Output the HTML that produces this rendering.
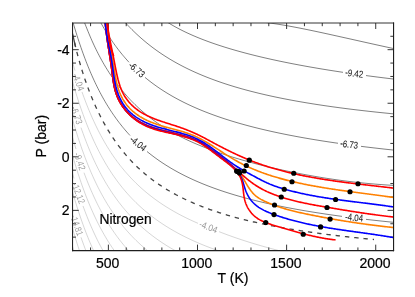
<!DOCTYPE html>
<html><head><meta charset="utf-8"><title>Nitrogen</title>
<style>
html,body{margin:0;padding:0;background:#fff;}
body{width:415px;height:297px;overflow:hidden;}
svg{display:block;}
text{font-family:"Liberation Sans",sans-serif;}
</style></head><body>
<svg width="415" height="297" viewBox="0 0 415 297">
<rect x="0" y="0" width="415" height="297" fill="#ffffff"/>
<defs><clipPath id="cp"><rect x="72.75" y="23.00" width="320.80" height="227.65"/></clipPath></defs>
<g clip-path="url(#cp)" fill="none" stroke-linecap="butt" stroke-linejoin="round">
<path d="M66.00,38.53 L67.00,42.29 L68.00,46.02 L69.00,49.70 L70.00,53.33 L71.00,56.90 L72.00,60.41 L73.00,63.87 L74.00,67.25 L75.00,70.57" stroke="#c4c4c4" stroke-width="0.7"/>
<path d="M82.00,91.97 L83.00,94.76 L84.00,97.50 L85.00,100.17 L86.00,102.79 L87.00,105.34 L88.00,107.84 L89.00,110.29 L90.00,112.68 L91.00,115.02 L92.00,117.30 L93.00,119.54 L94.00,121.73 L95.00,123.87 L96.00,125.96 L97.00,128.01 L98.00,130.02 L99.00,131.98 L100.00,133.91 L101.00,135.79 L102.00,137.63 L103.00,139.43 L104.00,141.20 L105.00,142.94 L106.00,144.63 L107.00,146.30 L108.00,147.93 L109.00,149.52 L110.00,151.09 L111.00,152.63 L112.00,154.13 L113.00,155.61 L114.00,157.06 L115.00,158.48 L116.00,159.88 L117.00,161.25 L118.00,162.59 L119.00,163.91 L120.00,165.21 L121.00,166.48 L122.00,167.73 L123.00,168.96 L124.00,170.16 L125.00,171.35 L126.00,172.51 L127.00,173.65 L128.00,174.78 L129.00,175.88 L130.00,176.97 L131.00,178.04 L132.00,179.09 L133.00,180.12 L134.00,181.14 L135.00,182.14 L136.00,183.13 L137.00,184.09 L138.00,185.05 L139.00,185.98 L140.00,186.91 L141.00,187.82 L142.00,188.71 L143.00,189.59 L144.00,190.46 L145.00,191.31 L146.00,192.16 L147.00,192.99 L148.00,193.80 L149.00,194.61 L150.00,195.40 L151.00,196.18 L152.00,196.95 L153.00,197.71 L154.00,198.46 L155.00,199.20 L156.00,199.92 L157.00,200.64 L158.00,201.35 L159.00,202.05 L160.00,202.74 L161.00,203.41 L162.00,204.08 L163.00,204.75 L164.00,205.40 L165.00,206.04 L166.00,206.68 L167.00,207.30 L168.00,207.92 L169.00,208.53 L170.00,209.13 L171.00,209.73 L172.00,210.31 L173.00,210.89 L174.00,211.47 L175.00,212.03 L176.00,212.59 L177.00,213.14 L178.00,213.69 L179.00,214.23 L180.00,214.76 L181.00,215.28 L182.00,215.80 L183.00,216.31 L184.00,216.82 L185.00,217.32 L186.00,217.82 L187.00,218.31 L188.00,218.79 L189.00,219.27 L190.00,219.74 L191.00,220.21 L192.00,220.67 L193.00,221.13 L194.00,221.58 L195.00,222.02 L196.00,222.47 L197.00,222.90 L198.00,223.34" stroke="#c4c4c4" stroke-width="0.7"/>
<path d="M219.00,231.63 L220.00,232.02 L221.00,232.41 L222.00,232.80 L223.00,233.18 L224.00,233.56 L225.00,233.94 L226.00,234.31 L227.00,234.69 L228.00,235.05 L229.00,235.42 L230.00,235.78 L231.00,236.14 L232.00,236.50 L233.00,236.85 L234.00,237.20 L235.00,237.55 L236.00,237.90 L237.00,238.24 L238.00,238.58 L239.00,238.92 L240.00,239.25 L241.00,239.58 L242.00,239.91 L243.00,240.24 L244.00,240.57 L245.00,240.89 L246.00,241.21 L247.00,241.53 L248.00,241.84 L249.00,242.16 L250.00,242.47 L251.00,242.78 L252.00,243.08 L253.00,243.39 L254.00,243.69 L255.00,243.99 L256.00,244.29 L257.00,244.58 L258.00,244.88 L259.00,245.17 L260.00,245.46 L261.00,245.75 L262.00,246.03 L263.00,246.32 L264.00,246.60 L265.00,246.88 L266.00,247.16 L267.00,247.44 L268.00,247.71 L269.00,247.98 L270.00,248.26 L271.00,248.53 L272.00,248.79 L273.00,249.06 L274.00,249.32 L275.00,249.59 L276.00,249.85 L277.00,250.11 L278.00,250.37 L279.00,250.62 L280.00,250.88 L281.00,251.13 L282.00,251.38 L283.00,251.63 L284.00,251.88 L285.00,252.13 L286.00,252.37 L287.00,252.62 L288.00,252.86 L289.00,253.10 L290.00,253.34 L291.00,253.58 L292.00,253.82 L293.00,254.06 L294.00,254.29 L295.00,254.52 L296.00,254.76 L297.00,254.99 L298.00,255.22 L299.00,255.44 L300.00,255.67 L301.00,255.90 L302.00,256.12 L303.00,256.34 L304.00,256.57 L305.00,256.79 L306.00,257.01 L307.00,257.23 L308.00,257.44 L309.00,257.66 L310.00,257.87 L311.00,258.09 L312.00,258.30 L313.00,258.51 L314.00,258.72 L315.00,258.93 L316.00,259.14 L317.00,259.35 L318.00,259.55 L319.00,259.76 L320.00,259.96 L321.00,260.17 L322.00,260.37 L323.00,260.57 L324.00,260.77 L325.00,260.97 L326.00,261.17 L327.00,261.37 L328.00,261.56 L329.00,261.76 L330.00,261.95" stroke="#c4c4c4" stroke-width="0.7"/>
<path d="M66.00,58.03 L67.00,61.79 L68.00,65.52 L69.00,69.20 L70.00,72.83 L71.00,76.40 L72.00,79.91 L73.00,83.37 L74.00,86.75 L75.00,90.07 L76.00,93.33 L77.00,96.52 L78.00,99.64 L79.00,102.69 L80.00,105.68 L81.00,108.61 L82.00,111.47 L83.00,114.26 L84.00,117.00 L85.00,119.67 L86.00,122.29 L87.00,124.84 L88.00,127.34 L89.00,129.79 L90.00,132.18 L91.00,134.52 L92.00,136.80 L93.00,139.04 L94.00,141.23 L95.00,143.37 L96.00,145.46 L97.00,147.51 L98.00,149.52 L99.00,151.48 L100.00,153.41 L101.00,155.29 L102.00,157.13 L103.00,158.93 L104.00,160.70 L105.00,162.44 L106.00,164.13 L107.00,165.80 L108.00,167.43 L109.00,169.02 L110.00,170.59 L111.00,172.13 L112.00,173.63 L113.00,175.11 L114.00,176.56 L115.00,177.98 L116.00,179.38 L117.00,180.75 L118.00,182.09 L119.00,183.41 L120.00,184.71 L121.00,185.98 L122.00,187.23 L123.00,188.46 L124.00,189.66 L125.00,190.85 L126.00,192.01 L127.00,193.15 L128.00,194.28 L129.00,195.38 L130.00,196.47 L131.00,197.54 L132.00,198.59 L133.00,199.62 L134.00,200.64 L135.00,201.64 L136.00,202.63 L137.00,203.59 L138.00,204.55 L139.00,205.48 L140.00,206.41 L141.00,207.32 L142.00,208.21 L143.00,209.09 L144.00,209.96 L145.00,210.81 L146.00,211.66 L147.00,212.49 L148.00,213.30 L149.00,214.11 L150.00,214.90 L151.00,215.68 L152.00,216.45 L153.00,217.21 L154.00,217.96 L155.00,218.70 L156.00,219.42 L157.00,220.14 L158.00,220.85 L159.00,221.55 L160.00,222.24 L161.00,222.91 L162.00,223.58 L163.00,224.25 L164.00,224.90 L165.00,225.54 L166.00,226.18 L167.00,226.80 L168.00,227.42 L169.00,228.03 L170.00,228.63 L171.00,229.23 L172.00,229.81 L173.00,230.39 L174.00,230.97 L175.00,231.53 L176.00,232.09 L177.00,232.64 L178.00,233.19 L179.00,233.73 L180.00,234.26 L181.00,234.78 L182.00,235.30 L183.00,235.81 L184.00,236.32 L185.00,236.82 L186.00,237.32 L187.00,237.81 L188.00,238.29 L189.00,238.77 L190.00,239.24 L191.00,239.71 L192.00,240.17 L193.00,240.63 L194.00,241.08 L195.00,241.52 L196.00,241.97 L197.00,242.40 L198.00,242.84 L199.00,243.26 L200.00,243.68 L201.00,244.10 L202.00,244.52 L203.00,244.93 L204.00,245.33 L205.00,245.73 L206.00,246.13 L207.00,246.52 L208.00,246.91 L209.00,247.29 L210.00,247.67 L211.00,248.05 L212.00,248.42 L213.00,248.79 L214.00,249.15 L215.00,249.52 L216.00,249.87 L217.00,250.23 L218.00,250.58 L219.00,250.93 L220.00,251.27 L221.00,251.61 L222.00,251.95 L223.00,252.28 L224.00,252.61 L225.00,252.94 L226.00,253.26 L227.00,253.59 L228.00,253.90 L229.00,254.22 L230.00,254.53 L231.00,254.84 L232.00,255.15 L233.00,255.45 L234.00,255.75 L235.00,256.05 L236.00,256.35 L237.00,256.64 L238.00,256.93 L239.00,257.22 L240.00,257.50 L241.00,257.78 L242.00,258.06 L243.00,258.34 L244.00,258.62 L245.00,258.89 L246.00,259.16 L247.00,259.43 L248.00,259.69 L249.00,259.96 L250.00,260.22 L251.00,260.48 L252.00,260.73 L253.00,260.99 L254.00,261.24 L255.00,261.49 L256.00,261.74 L257.00,261.98" stroke="#c4c4c4" stroke-width="0.7"/>
<path d="M66.00,77.03 L67.00,80.79 L68.00,84.52 L69.00,88.20 L70.00,91.83 L71.00,95.40 L72.00,98.91 L73.00,102.37" stroke="#c4c4c4" stroke-width="0.7"/>
<path d="M81.00,127.61 L82.00,130.47 L83.00,133.26 L84.00,136.00 L85.00,138.67 L86.00,141.29 L87.00,143.84 L88.00,146.34 L89.00,148.79 L90.00,151.18 L91.00,153.52 L92.00,155.80 L93.00,158.04 L94.00,160.23 L95.00,162.37 L96.00,164.46 L97.00,166.51 L98.00,168.52 L99.00,170.48 L100.00,172.41 L101.00,174.29 L102.00,176.13 L103.00,177.93 L104.00,179.70 L105.00,181.44 L106.00,183.13 L107.00,184.80 L108.00,186.43 L109.00,188.02 L110.00,189.59 L111.00,191.13 L112.00,192.63 L113.00,194.11 L114.00,195.56 L115.00,196.98 L116.00,198.38 L117.00,199.75 L118.00,201.09 L119.00,202.41 L120.00,203.71 L121.00,204.98 L122.00,206.23 L123.00,207.46 L124.00,208.66 L125.00,209.85 L126.00,211.01 L127.00,212.15 L128.00,213.28 L129.00,214.38 L130.00,215.47 L131.00,216.54 L132.00,217.59 L133.00,218.62 L134.00,219.64 L135.00,220.64 L136.00,221.63 L137.00,222.59 L138.00,223.55 L139.00,224.48 L140.00,225.41 L141.00,226.32 L142.00,227.21 L143.00,228.09 L144.00,228.96 L145.00,229.81 L146.00,230.66 L147.00,231.49 L148.00,232.30 L149.00,233.11 L150.00,233.90 L151.00,234.68 L152.00,235.45 L153.00,236.21 L154.00,236.96 L155.00,237.70 L156.00,238.42 L157.00,239.14 L158.00,239.85 L159.00,240.55 L160.00,241.24 L161.00,241.91 L162.00,242.58 L163.00,243.25 L164.00,243.90 L165.00,244.54 L166.00,245.18 L167.00,245.80 L168.00,246.42 L169.00,247.03 L170.00,247.63 L171.00,248.23 L172.00,248.81 L173.00,249.39 L174.00,249.97 L175.00,250.53 L176.00,251.09 L177.00,251.64 L178.00,252.19 L179.00,252.73 L180.00,253.26 L181.00,253.78 L182.00,254.30 L183.00,254.81 L184.00,255.32 L185.00,255.82 L186.00,256.32 L187.00,256.81 L188.00,257.29 L189.00,257.77 L190.00,258.24 L191.00,258.71 L192.00,259.17 L193.00,259.63 L194.00,260.08 L195.00,260.52 L196.00,260.97 L197.00,261.40 L198.00,261.84" stroke="#c4c4c4" stroke-width="0.7"/>
<path d="M66.00,95.73 L67.00,99.49 L68.00,103.22 L69.00,106.90 L70.00,110.53 L71.00,114.10 L72.00,117.61 L73.00,121.07 L74.00,124.45 L75.00,127.77 L76.00,131.03 L77.00,134.22 L78.00,137.34 L79.00,140.39 L80.00,143.38 L81.00,146.31 L82.00,149.17 L83.00,151.96 L84.00,154.70 L85.00,157.37 L86.00,159.99 L87.00,162.54 L88.00,165.04 L89.00,167.49 L90.00,169.88 L91.00,172.22 L92.00,174.50 L93.00,176.74 L94.00,178.93 L95.00,181.07 L96.00,183.16 L97.00,185.21 L98.00,187.22 L99.00,189.18 L100.00,191.11 L101.00,192.99 L102.00,194.83 L103.00,196.63 L104.00,198.40 L105.00,200.14 L106.00,201.83 L107.00,203.50 L108.00,205.13 L109.00,206.72 L110.00,208.29 L111.00,209.83 L112.00,211.33 L113.00,212.81 L114.00,214.26 L115.00,215.68 L116.00,217.08 L117.00,218.45 L118.00,219.79 L119.00,221.11 L120.00,222.41 L121.00,223.68 L122.00,224.93 L123.00,226.16 L124.00,227.36 L125.00,228.55 L126.00,229.71 L127.00,230.85 L128.00,231.98 L129.00,233.08 L130.00,234.17 L131.00,235.24 L132.00,236.29 L133.00,237.32 L134.00,238.34 L135.00,239.34 L136.00,240.33 L137.00,241.29 L138.00,242.25 L139.00,243.18 L140.00,244.11 L141.00,245.02 L142.00,245.91 L143.00,246.79 L144.00,247.66 L145.00,248.51 L146.00,249.36 L147.00,250.19 L148.00,251.00 L149.00,251.81 L150.00,252.60 L151.00,253.38 L152.00,254.15 L153.00,254.91 L154.00,255.66 L155.00,256.40 L156.00,257.12 L157.00,257.84 L158.00,258.55 L159.00,259.25 L160.00,259.94 L161.00,260.61 L162.00,261.28 L163.00,261.95" stroke="#c4c4c4" stroke-width="0.7"/>
<path d="M66.00,113.73 L67.00,117.49 L68.00,121.22 L69.00,124.90 L70.00,128.53 L71.00,132.10 L72.00,135.61 L73.00,139.07 L74.00,142.45 L75.00,145.77 L76.00,149.03" stroke="#c4c4c4" stroke-width="0.7"/>
<path d="M84.00,172.70 L85.00,175.37 L86.00,177.99 L87.00,180.54 L88.00,183.04 L89.00,185.49 L90.00,187.88 L91.00,190.22 L92.00,192.50 L93.00,194.74 L94.00,196.93 L95.00,199.07 L96.00,201.16 L97.00,203.21 L98.00,205.22 L99.00,207.18 L100.00,209.11 L101.00,210.99 L102.00,212.83 L103.00,214.63 L104.00,216.40 L105.00,218.14 L106.00,219.83 L107.00,221.50 L108.00,223.13 L109.00,224.72 L110.00,226.29 L111.00,227.83 L112.00,229.33 L113.00,230.81 L114.00,232.26 L115.00,233.68 L116.00,235.08 L117.00,236.45 L118.00,237.79 L119.00,239.11 L120.00,240.41 L121.00,241.68 L122.00,242.93 L123.00,244.16 L124.00,245.36 L125.00,246.55 L126.00,247.71 L127.00,248.85 L128.00,249.98 L129.00,251.08 L130.00,252.17 L131.00,253.24 L132.00,254.29 L133.00,255.32 L134.00,256.34 L135.00,257.34 L136.00,258.33 L137.00,259.29 L138.00,260.25 L139.00,261.18" stroke="#c4c4c4" stroke-width="0.7"/>
<path d="M66.00,131.73 L67.00,135.49 L68.00,139.22 L69.00,142.90 L70.00,146.53 L71.00,150.10 L72.00,153.61 L73.00,157.07 L74.00,160.45 L75.00,163.77 L76.00,167.03 L77.00,170.22 L78.00,173.34 L79.00,176.39 L80.00,179.38 L81.00,182.31 L82.00,185.17 L83.00,187.96 L84.00,190.70 L85.00,193.37 L86.00,195.99 L87.00,198.54 L88.00,201.04 L89.00,203.49 L90.00,205.88 L91.00,208.22 L92.00,210.50 L93.00,212.74 L94.00,214.93 L95.00,217.07 L96.00,219.16 L97.00,221.21 L98.00,223.22 L99.00,225.18 L100.00,227.11 L101.00,228.99 L102.00,230.83 L103.00,232.63 L104.00,234.40 L105.00,236.14 L106.00,237.83 L107.00,239.50 L108.00,241.13 L109.00,242.72 L110.00,244.29 L111.00,245.83 L112.00,247.33 L113.00,248.81 L114.00,250.26 L115.00,251.68 L116.00,253.08 L117.00,254.45 L118.00,255.79 L119.00,257.11 L120.00,258.41 L121.00,259.68 L122.00,260.93" stroke="#c4c4c4" stroke-width="0.7"/>
<path d="M66.00,149.73 L67.00,153.49 L68.00,157.22 L69.00,160.90 L70.00,164.53 L71.00,168.10 L72.00,171.61 L73.00,175.07 L74.00,178.45" stroke="#c4c4c4" stroke-width="0.7"/>
<path d="M83.00,205.96 L84.00,208.70 L85.00,211.37 L86.00,213.99 L87.00,216.54 L88.00,219.04 L89.00,221.49 L90.00,223.88 L91.00,226.22 L92.00,228.50 L93.00,230.74 L94.00,232.93 L95.00,235.07 L96.00,237.16 L97.00,239.21 L98.00,241.22 L99.00,243.18 L100.00,245.11 L101.00,246.99 L102.00,248.83 L103.00,250.63 L104.00,252.40 L105.00,254.14 L106.00,255.83 L107.00,257.50 L108.00,259.13 L109.00,260.72" stroke="#c4c4c4" stroke-width="0.7"/>
<path d="M66.00,168.33 L67.00,172.09 L68.00,175.82 L69.00,179.50 L70.00,183.13 L71.00,186.70 L72.00,190.21 L73.00,193.67 L74.00,197.05 L75.00,200.37 L76.00,203.63 L77.00,206.82 L78.00,209.94 L79.00,212.99 L80.00,215.98 L81.00,218.91 L82.00,221.77 L83.00,224.56 L84.00,227.30 L85.00,229.97 L86.00,232.59 L87.00,235.14 L88.00,237.64 L89.00,240.09 L90.00,242.48 L91.00,244.82 L92.00,247.10 L93.00,249.34 L94.00,251.53 L95.00,253.67 L96.00,255.76 L97.00,257.81 L98.00,259.82 L99.00,261.78" stroke="#c4c4c4" stroke-width="0.7"/>
<path d="M66.00,186.73 L67.00,190.49 L68.00,194.22 L69.00,197.90 L70.00,201.53 L71.00,205.10 L72.00,208.61 L73.00,212.07" stroke="#c4c4c4" stroke-width="0.7"/>
<path d="M81.00,237.31 L82.00,240.17 L83.00,242.96 L84.00,245.70 L85.00,248.37 L86.00,250.99 L87.00,253.54 L88.00,256.04 L89.00,258.49 L90.00,260.88" stroke="#c4c4c4" stroke-width="0.7"/>
<path d="M66.00,204.73 L67.00,208.49 L68.00,212.22 L69.00,215.90 L70.00,219.53 L71.00,223.10 L72.00,226.61 L73.00,230.07 L74.00,233.45 L75.00,236.77 L76.00,240.03 L77.00,243.22 L78.00,246.34 L79.00,249.39 L80.00,252.38 L81.00,255.31 L82.00,258.17 L83.00,260.96" stroke="#c4c4c4" stroke-width="0.7"/>
<path d="M66.00,222.73 L67.00,226.49 L68.00,230.22 L69.00,233.90 L70.00,237.53 L71.00,241.10 L72.00,244.61 L73.00,248.07 L74.00,251.45 L75.00,254.77 L76.00,258.03 L77.00,261.22" stroke="#c4c4c4" stroke-width="0.7"/>
<path d="M262.00,22.08 L263.00,22.18 L264.00,22.30 L265.00,22.41 L266.00,22.53 L267.00,22.65 L268.00,22.78 L269.00,22.91 L270.00,23.04 L271.00,23.18 L272.00,23.32 L273.00,23.46 L274.00,23.61 L275.00,23.75 L276.00,23.90 L277.00,24.06 L278.00,24.21 L279.00,24.37 L280.00,24.53 L281.00,24.69 L282.00,24.86 L283.00,25.03 L284.00,25.19 L285.00,25.37 L286.00,25.54 L287.00,25.72 L288.00,25.89 L289.00,26.07 L290.00,26.25 L291.00,26.44 L292.00,26.62 L293.00,26.81 L294.00,27.00 L295.00,27.18 L296.00,27.38 L297.00,27.57 L298.00,27.76 L299.00,27.96 L300.00,28.15 L301.00,28.35 L302.00,28.55 L303.00,28.75 L304.00,28.95 L305.00,29.15 L306.00,29.36 L307.00,29.56 L308.00,29.77 L309.00,29.97 L310.00,30.18 L311.00,30.39 L312.00,30.60 L313.00,30.81 L314.00,31.02 L315.00,31.23 L316.00,31.44 L317.00,31.65 L318.00,31.87 L319.00,32.08 L320.00,32.30 L321.00,32.51 L322.00,32.73 L323.00,32.94 L324.00,33.16 L325.00,33.38 L326.00,33.60 L327.00,33.82 L328.00,34.03 L329.00,34.25 L330.00,34.47 L331.00,34.69 L332.00,34.91 L333.00,35.14 L334.00,35.36 L335.00,35.58 L336.00,35.80 L337.00,36.02 L338.00,36.24 L339.00,36.47 L340.00,36.69 L341.00,36.91 L342.00,37.13 L343.00,37.36 L344.00,37.58 L345.00,37.80 L346.00,38.03 L347.00,38.25 L348.00,38.47 L349.00,38.70 L350.00,38.92 L351.00,39.14 L352.00,39.37 L353.00,39.59 L354.00,39.82 L355.00,40.04 L356.00,40.26 L357.00,40.49 L358.00,40.71 L359.00,40.93 L360.00,41.16 L361.00,41.38 L362.00,41.60 L363.00,41.83 L364.00,42.05 L365.00,42.27 L366.00,42.50 L367.00,42.72 L368.00,42.94 L369.00,43.16 L370.00,43.39 L371.00,43.61 L372.00,43.83 L373.00,44.05 L374.00,44.27 L375.00,44.49 L376.00,44.72 L377.00,44.94 L378.00,45.16 L379.00,45.38 L380.00,45.60 L381.00,45.82 L382.00,46.04 L383.00,46.26 L384.00,46.48 L385.00,46.70 L386.00,46.91 L387.00,47.13 L388.00,47.35 L389.00,47.57 L390.00,47.79 L391.00,48.00 L392.00,48.22 L393.00,48.44 L394.00,48.65 L395.00,48.87 L396.00,49.08 L397.00,49.30 L398.00,49.52 L399.00,49.73 L400.00,49.94" stroke="#444444" stroke-width="0.68"/>
<path d="M162.00,18.65 L163.00,19.34 L164.00,20.01 L165.00,20.67 L166.00,21.33 L167.00,21.97 L168.00,22.59 L169.00,23.21 L170.00,23.82 L171.00,24.42 L172.00,25.00 L173.00,25.58 L174.00,26.15 L175.00,26.71 L176.00,27.26 L177.00,27.80 L178.00,28.34 L179.00,28.86 L180.00,29.38 L181.00,29.89 L182.00,30.40 L183.00,30.89 L184.00,31.39 L185.00,31.87 L186.00,32.35 L187.00,32.82 L188.00,33.28 L189.00,33.74 L190.00,34.19 L191.00,34.64 L192.00,35.08 L193.00,35.52 L194.00,35.95 L195.00,36.37 L196.00,36.79 L197.00,37.21 L198.00,37.62 L199.00,38.02 L200.00,38.43 L201.00,38.82 L202.00,39.22 L203.00,39.60 L204.00,39.99 L205.00,40.37 L206.00,40.74 L207.00,41.12 L208.00,41.48 L209.00,41.85 L210.00,42.21 L211.00,42.57 L212.00,42.92 L213.00,43.27 L214.00,43.62 L215.00,43.96 L216.00,44.30 L217.00,44.64 L218.00,44.97 L219.00,45.30 L220.00,45.63 L221.00,45.95 L222.00,46.27 L223.00,46.59 L224.00,46.91 L225.00,47.22 L226.00,47.53 L227.00,47.84 L228.00,48.15 L229.00,48.45 L230.00,48.75 L231.00,49.05 L232.00,49.34 L233.00,49.63 L234.00,49.92 L235.00,50.21 L236.00,50.50 L237.00,50.78 L238.00,51.06 L239.00,51.34 L240.00,51.62 L241.00,51.89 L242.00,52.16 L243.00,52.43 L244.00,52.70 L245.00,52.97 L246.00,53.23 L247.00,53.49 L248.00,53.76 L249.00,54.01 L250.00,54.27 L251.00,54.53 L252.00,54.78 L253.00,55.03 L254.00,55.28 L255.00,55.53 L256.00,55.77 L257.00,56.02 L258.00,56.26 L259.00,56.50 L260.00,56.74 L261.00,56.98 L262.00,57.21 L263.00,57.45 L264.00,57.68 L265.00,57.91 L266.00,58.14 L267.00,58.37 L268.00,58.60 L269.00,58.82 L270.00,59.04 L271.00,59.27 L272.00,59.49 L273.00,59.71 L274.00,59.93 L275.00,60.14 L276.00,60.36 L277.00,60.57 L278.00,60.78 L279.00,61.00 L280.00,61.21 L281.00,61.42 L282.00,61.62 L283.00,61.83 L284.00,62.03 L285.00,62.24 L286.00,62.44 L287.00,62.64 L288.00,62.84 L289.00,63.04 L290.00,63.24 L291.00,63.44 L292.00,63.63 L293.00,63.83 L294.00,64.02 L295.00,64.21 L296.00,64.40 L297.00,64.59 L298.00,64.78 L299.00,64.97 L300.00,65.16 L301.00,65.34 L302.00,65.53 L303.00,65.71 L304.00,65.89 L305.00,66.08 L306.00,66.26 L307.00,66.44 L308.00,66.62 L309.00,66.79 L310.00,66.97 L311.00,67.15 L312.00,67.32 L313.00,67.49 L314.00,67.67 L315.00,67.84 L316.00,68.01 L317.00,68.18 L318.00,68.35 L319.00,68.52 L320.00,68.69 L321.00,68.85 L322.00,69.02 L323.00,69.19 L324.00,69.35 L325.00,69.51 L326.00,69.68 L327.00,69.84 L328.00,70.00 L329.00,70.16 L330.00,70.32 L331.00,70.48 L332.00,70.63 L333.00,70.79 L334.00,70.95 L335.00,71.10 L336.00,71.26 L337.00,71.41 L338.00,71.56 L339.00,71.72 L340.00,71.87 L341.00,72.02 L342.00,72.17 L343.00,72.32" stroke="#444444" stroke-width="0.68"/>
<path d="M366.00,75.56 L367.00,75.70 L368.00,75.83 L369.00,75.96 L370.00,76.09 L371.00,76.23 L372.00,76.36 L373.00,76.49 L374.00,76.62 L375.00,76.74 L376.00,76.87 L377.00,77.00 L378.00,77.13 L379.00,77.25 L380.00,77.38 L381.00,77.50 L382.00,77.63 L383.00,77.75 L384.00,77.88 L385.00,78.00 L386.00,78.12 L387.00,78.25 L388.00,78.37 L389.00,78.49 L390.00,78.61 L391.00,78.73 L392.00,78.85 L393.00,78.97 L394.00,79.09 L395.00,79.20 L396.00,79.32 L397.00,79.44 L398.00,79.56 L399.00,79.67 L400.00,79.79" stroke="#444444" stroke-width="0.68"/>
<path d="M120.00,16.62 L121.00,17.79 L122.00,18.94 L123.00,20.07 L124.00,21.19 L125.00,22.30 L126.00,23.39 L127.00,24.47 L128.00,25.53 L129.00,26.57 L130.00,27.60 L131.00,28.62 L132.00,29.63 L133.00,30.61 L134.00,31.59 L135.00,32.55 L136.00,33.50 L137.00,34.44 L138.00,35.36 L139.00,36.27 L140.00,37.17 L141.00,38.06 L142.00,38.93 L143.00,39.79 L144.00,40.64 L145.00,41.48 L146.00,42.31 L147.00,43.13 L148.00,43.93 L149.00,44.73 L150.00,45.51 L151.00,46.28 L152.00,47.05 L153.00,47.80 L154.00,48.54 L155.00,49.28 L156.00,50.00 L157.00,50.71 L158.00,51.42 L159.00,52.12 L160.00,52.80 L161.00,53.48 L162.00,54.15 L163.00,54.81 L164.00,55.46 L165.00,56.11 L166.00,56.74 L167.00,57.37 L168.00,57.99 L169.00,58.61 L170.00,59.21 L171.00,59.81 L172.00,60.40 L173.00,60.98 L174.00,61.56 L175.00,62.13 L176.00,62.69 L177.00,63.24 L178.00,63.79 L179.00,64.34 L180.00,64.87 L181.00,65.40 L182.00,65.92 L183.00,66.44 L184.00,66.95 L185.00,67.46 L186.00,67.96 L187.00,68.45 L188.00,68.94 L189.00,69.42 L190.00,69.90 L191.00,70.37 L192.00,70.84 L193.00,71.30 L194.00,71.75 L195.00,72.21 L196.00,72.65 L197.00,73.09 L198.00,73.53 L199.00,73.96 L200.00,74.39 L201.00,74.81 L202.00,75.23 L203.00,75.64 L204.00,76.05 L205.00,76.45 L206.00,76.85 L207.00,77.25 L208.00,77.64 L209.00,78.03 L210.00,78.41 L211.00,78.79 L212.00,79.17 L213.00,79.54 L214.00,79.91 L215.00,80.27 L216.00,80.64 L217.00,80.99 L218.00,81.35 L219.00,81.70 L220.00,82.04 L221.00,82.39 L222.00,82.73 L223.00,83.06 L224.00,83.40 L225.00,83.73 L226.00,84.05 L227.00,84.38 L228.00,84.70 L229.00,85.01 L230.00,85.33 L231.00,85.64 L232.00,85.95 L233.00,86.25 L234.00,86.56 L235.00,86.86 L236.00,87.15 L237.00,87.45 L238.00,87.74 L239.00,88.03 L240.00,88.31 L241.00,88.60 L242.00,88.88 L243.00,89.16 L244.00,89.43 L245.00,89.71 L246.00,89.98 L247.00,90.25 L248.00,90.51 L249.00,90.78 L250.00,91.04 L251.00,91.30 L252.00,91.56 L253.00,91.81 L254.00,92.06 L255.00,92.32 L256.00,92.56 L257.00,92.81 L258.00,93.05 L259.00,93.30 L260.00,93.54 L261.00,93.77 L262.00,94.01 L263.00,94.24 L264.00,94.48 L265.00,94.71 L266.00,94.94 L267.00,95.16 L268.00,95.39 L269.00,95.61 L270.00,95.83 L271.00,96.05 L272.00,96.27 L273.00,96.48 L274.00,96.70 L275.00,96.91 L276.00,97.12 L277.00,97.33 L278.00,97.53 L279.00,97.74 L280.00,97.94 L281.00,98.15 L282.00,98.35 L283.00,98.55 L284.00,98.74 L285.00,98.94 L286.00,99.13 L287.00,99.33 L288.00,99.52 L289.00,99.71 L290.00,99.90 L291.00,100.09 L292.00,100.27 L293.00,100.46 L294.00,100.64 L295.00,100.82 L296.00,101.00 L297.00,101.18 L298.00,101.36 L299.00,101.54 L300.00,101.71 L301.00,101.88 L302.00,102.06 L303.00,102.23 L304.00,102.40 L305.00,102.57 L306.00,102.74 L307.00,102.90 L308.00,103.07 L309.00,103.23 L310.00,103.39 L311.00,103.56 L312.00,103.72 L313.00,103.88 L314.00,104.03 L315.00,104.19 L316.00,104.35 L317.00,104.50 L318.00,104.66 L319.00,104.81 L320.00,104.96 L321.00,105.11 L322.00,105.26 L323.00,105.41 L324.00,105.56 L325.00,105.71 L326.00,105.85 L327.00,106.00 L328.00,106.14 L329.00,106.29 L330.00,106.43 L331.00,106.57 L332.00,106.71 L333.00,106.85 L334.00,106.99 L335.00,107.12 L336.00,107.26 L337.00,107.40 L338.00,107.53 L339.00,107.67 L340.00,107.80 L341.00,107.93 L342.00,108.06 L343.00,108.19 L344.00,108.32 L345.00,108.45 L346.00,108.58 L347.00,108.71 L348.00,108.83 L349.00,108.96 L350.00,109.08 L351.00,109.21 L352.00,109.33 L353.00,109.45 L354.00,109.58 L355.00,109.70 L356.00,109.82 L357.00,109.94 L358.00,110.06 L359.00,110.17 L360.00,110.29 L361.00,110.41 L362.00,110.52 L363.00,110.64 L364.00,110.75 L365.00,110.87 L366.00,110.98 L367.00,111.09 L368.00,111.21 L369.00,111.32 L370.00,111.43 L371.00,111.54 L372.00,111.65 L373.00,111.76 L374.00,111.86 L375.00,111.97 L376.00,112.08 L377.00,112.18 L378.00,112.29 L379.00,112.40 L380.00,112.50 L381.00,112.60 L382.00,112.71 L383.00,112.81 L384.00,112.91 L385.00,113.01 L386.00,113.11 L387.00,113.21 L388.00,113.31 L389.00,113.41 L390.00,113.51 L391.00,113.61 L392.00,113.71 L393.00,113.80 L394.00,113.90 L395.00,114.00 L396.00,114.09 L397.00,114.19 L398.00,114.28 L399.00,114.37 L400.00,114.47" stroke="#444444" stroke-width="0.68"/>
<path d="M97.00,15.71 L98.00,17.61 L99.00,19.49 L100.00,21.33 L101.00,23.13 L102.00,24.91 L103.00,26.65 L104.00,28.36 L105.00,30.04 L106.00,31.68 L107.00,33.30 L108.00,34.89 L109.00,36.44 L110.00,37.97 L111.00,39.47 L112.00,40.94 L113.00,42.39 L114.00,43.80 L115.00,45.20 L116.00,46.56 L117.00,47.90 L118.00,49.22 L119.00,50.51 L120.00,51.78 L121.00,53.03 L122.00,54.26 L123.00,55.46 L124.00,56.64 L125.00,57.80 L126.00,58.95 L127.00,60.07 L128.00,61.17 L129.00,62.26" stroke="#444444" stroke-width="0.68"/>
<path d="M145.00,77.39 L146.00,78.21 L147.00,79.02 L148.00,79.82 L149.00,80.61 L150.00,81.39 L151.00,82.16 L152.00,82.91 L153.00,83.66 L154.00,84.39 L155.00,85.12 L156.00,85.83 L157.00,86.53 L158.00,87.23 L159.00,87.91 L160.00,88.59 L161.00,89.25 L162.00,89.91 L163.00,90.56 L164.00,91.20 L165.00,91.83 L166.00,92.46 L167.00,93.07 L168.00,93.68 L169.00,94.28 L170.00,94.87 L171.00,95.45 L172.00,96.03 L173.00,96.60 L174.00,97.17 L175.00,97.72 L176.00,98.27 L177.00,98.81 L178.00,99.35 L179.00,99.88 L180.00,100.40 L181.00,100.92 L182.00,101.43 L183.00,101.94 L184.00,102.44 L185.00,102.93 L186.00,103.42 L187.00,103.90 L188.00,104.38 L189.00,104.85 L190.00,105.32 L191.00,105.78 L192.00,106.24 L193.00,106.69 L194.00,107.14 L195.00,107.58 L196.00,108.01 L197.00,108.45 L198.00,108.87 L199.00,109.30 L200.00,109.72 L201.00,110.13 L202.00,110.54 L203.00,110.95 L204.00,111.35 L205.00,111.75 L206.00,112.14 L207.00,112.53 L208.00,112.92 L209.00,113.30 L210.00,113.68 L211.00,114.05 L212.00,114.42 L213.00,114.79 L214.00,115.15 L215.00,115.51 L216.00,115.87 L217.00,116.22 L218.00,116.57 L219.00,116.92 L220.00,117.26 L221.00,117.60 L222.00,117.94 L223.00,118.27 L224.00,118.60 L225.00,118.93 L226.00,119.25 L227.00,119.57 L228.00,119.89 L229.00,120.21 L230.00,120.52 L231.00,120.83 L232.00,121.14 L233.00,121.44 L234.00,121.74 L235.00,122.04 L236.00,122.34 L237.00,122.63 L238.00,122.93 L239.00,123.21 L240.00,123.50 L241.00,123.79 L242.00,124.07 L243.00,124.35 L244.00,124.62 L245.00,124.90 L246.00,125.17 L247.00,125.44 L248.00,125.71 L249.00,125.97 L250.00,126.24 L251.00,126.50 L252.00,126.76 L253.00,127.02 L254.00,127.27 L255.00,127.52 L256.00,127.78 L257.00,128.02 L258.00,128.27 L259.00,128.52 L260.00,128.76 L261.00,129.00 L262.00,129.24 L263.00,129.48 L264.00,129.71 L265.00,129.95 L266.00,130.18 L267.00,130.41 L268.00,130.64 L269.00,130.87 L270.00,131.09 L271.00,131.32 L272.00,131.54 L273.00,131.76 L274.00,131.98 L275.00,132.19 L276.00,132.41 L277.00,132.62 L278.00,132.84 L279.00,133.05 L280.00,133.26 L281.00,133.46 L282.00,133.67 L283.00,133.87 L284.00,134.08 L285.00,134.28 L286.00,134.48 L287.00,134.68 L288.00,134.88 L289.00,135.07 L290.00,135.27 L291.00,135.46 L292.00,135.65 L293.00,135.84 L294.00,136.03 L295.00,136.22 L296.00,136.41 L297.00,136.60 L298.00,136.78 L299.00,136.96 L300.00,137.14 L301.00,137.33 L302.00,137.51 L303.00,137.68 L304.00,137.86 L305.00,138.04 L306.00,138.21 L307.00,138.39 L308.00,138.56 L309.00,138.73 L310.00,138.90 L311.00,139.07 L312.00,139.24 L313.00,139.40 L314.00,139.57 L315.00,139.74 L316.00,139.90 L317.00,140.06 L318.00,140.22 L319.00,140.39 L320.00,140.55 L321.00,140.70 L322.00,140.86 L323.00,141.02 L324.00,141.18 L325.00,141.33 L326.00,141.48 L327.00,141.64 L328.00,141.79 L329.00,141.94 L330.00,142.09 L331.00,142.24 L332.00,142.39 L333.00,142.54 L334.00,142.68 L335.00,142.83 L336.00,142.97 L337.00,143.12 L338.00,143.26" stroke="#444444" stroke-width="0.68"/>
<path d="M361.00,146.34 L362.00,146.46 L363.00,146.59 L364.00,146.71 L365.00,146.83 L366.00,146.96 L367.00,147.08 L368.00,147.20 L369.00,147.32 L370.00,147.44 L371.00,147.56 L372.00,147.67 L373.00,147.79 L374.00,147.91 L375.00,148.03 L376.00,148.14 L377.00,148.26 L378.00,148.37 L379.00,148.49 L380.00,148.60 L381.00,148.71 L382.00,148.82 L383.00,148.94 L384.00,149.05 L385.00,149.16 L386.00,149.27 L387.00,149.38 L388.00,149.49 L389.00,149.59 L390.00,149.70 L391.00,149.81 L392.00,149.92 L393.00,150.02 L394.00,150.13 L395.00,150.23 L396.00,150.34 L397.00,150.44 L398.00,150.54 L399.00,150.65 L400.00,150.75" stroke="#444444" stroke-width="0.68"/>
<path d="M82.00,16.72 L83.00,19.05 L84.00,21.46 L85.00,23.92 L86.00,26.40 L87.00,28.88 L88.00,31.35 L89.00,33.78 L90.00,36.17 L91.00,38.50 L92.00,40.77 L93.00,42.99 L94.00,45.15 L95.00,47.27 L96.00,49.33 L97.00,51.35 L98.00,53.33 L99.00,55.25 L100.00,57.14 L101.00,58.99 L102.00,60.80 L103.00,62.56 L104.00,64.30 L105.00,65.99 L106.00,67.66 L107.00,69.28 L108.00,70.88 L109.00,72.45 L110.00,73.98 L111.00,75.49 L112.00,76.96 L113.00,78.41 L114.00,79.83 L115.00,81.23 L116.00,82.60 L117.00,83.95 L118.00,85.27 L119.00,86.56 L120.00,87.84 L121.00,89.09 L122.00,90.32 L123.00,91.53 L124.00,92.72 L125.00,93.89 L126.00,95.04 L127.00,96.17 L128.00,97.28 L129.00,98.37 L130.00,99.45 L131.00,100.50 L132.00,101.54 L133.00,102.56 L134.00,103.56 L135.00,104.55 L136.00,105.52 L137.00,106.47 L138.00,107.41 L139.00,108.34 L140.00,109.25 L141.00,110.14 L142.00,111.02 L143.00,111.89 L144.00,112.75 L145.00,113.59 L146.00,114.41 L147.00,115.23 L148.00,116.03 L149.00,116.82 L150.00,117.60 L151.00,118.36 L152.00,119.12 L153.00,119.86 L154.00,120.59 L155.00,121.32 L156.00,122.03 L157.00,122.73 L158.00,123.42 L159.00,124.10 L160.00,124.77 L161.00,125.43 L162.00,126.08 L163.00,126.72 L164.00,127.36 L165.00,127.98 L166.00,128.60 L167.00,129.21 L168.00,129.81 L169.00,130.40 L170.00,130.98 L171.00,131.56 L172.00,132.12 L173.00,132.68 L174.00,133.24 L175.00,133.78 L176.00,134.32 L177.00,134.85 L178.00,135.38 L179.00,135.90 L180.00,136.41 L181.00,136.91 L182.00,137.41 L183.00,137.91 L184.00,138.40 L185.00,138.88 L186.00,139.36 L187.00,139.83 L188.00,140.30 L189.00,140.76 L190.00,141.22 L191.00,141.67 L192.00,142.12 L193.00,142.56 L194.00,143.00 L195.00,143.43 L196.00,143.86 L197.00,144.29 L198.00,144.71 L199.00,145.12 L200.00,145.54 L201.00,145.94 L202.00,146.35 L203.00,146.75 L204.00,147.15 L205.00,147.54 L206.00,147.93 L207.00,148.31 L208.00,148.70 L209.00,149.07 L210.00,149.45 L211.00,149.82 L212.00,150.19 L213.00,150.56 L214.00,150.92 L215.00,151.28 L216.00,151.63 L217.00,151.99 L218.00,152.34 L219.00,152.68 L220.00,153.03 L221.00,153.37 L222.00,153.71 L223.00,154.04 L224.00,154.37 L225.00,154.71 L226.00,155.03 L227.00,155.36 L228.00,155.68 L229.00,156.00 L230.00,156.32 L231.00,156.63 L232.00,156.94 L233.00,157.25 L234.00,157.56 L235.00,157.87 L236.00,158.17 L237.00,158.47 L238.00,158.77 L239.00,159.07 L240.00,159.36 L241.00,159.65 L242.00,159.94 L243.00,160.23 L244.00,160.51 L245.00,160.80 L246.00,161.08 L247.00,161.36 L248.00,161.64 L249.00,161.91 L250.00,162.19 L251.00,162.46 L252.00,162.73 L253.00,163.00 L254.00,163.26 L255.00,163.53 L256.00,163.79 L257.00,164.05 L258.00,164.31 L259.00,164.57 L260.00,164.82 L261.00,165.07 L262.00,165.33 L263.00,165.57 L264.00,165.82 L265.00,166.07 L266.00,166.31 L267.00,166.56 L268.00,166.80 L269.00,167.04 L270.00,167.27 L271.00,167.51 L272.00,167.74 L273.00,167.98 L274.00,168.21 L275.00,168.44 L276.00,168.66 L277.00,168.89 L278.00,169.12 L279.00,169.34 L280.00,169.56 L281.00,169.78 L282.00,170.00 L283.00,170.21 L284.00,170.43 L285.00,170.64 L286.00,170.85 L287.00,171.07 L288.00,171.27 L289.00,171.48 L290.00,171.69 L291.00,171.89 L292.00,172.10 L293.00,172.30 L294.00,172.50 L295.00,172.70 L296.00,172.90 L297.00,173.09 L298.00,173.29 L299.00,173.48 L300.00,173.67 L301.00,173.86 L302.00,174.05 L303.00,174.24 L304.00,174.43 L305.00,174.61 L306.00,174.80 L307.00,174.98 L308.00,175.16 L309.00,175.34 L310.00,175.52 L311.00,175.70 L312.00,175.88 L313.00,176.05 L314.00,176.23 L315.00,176.40 L316.00,176.57 L317.00,176.74 L318.00,176.91 L319.00,177.08 L320.00,177.25 L321.00,177.41 L322.00,177.58 L323.00,177.74 L324.00,177.90 L325.00,178.06 L326.00,178.22 L327.00,178.37 L328.00,178.53 L329.00,178.68 L330.00,178.83 L331.00,178.98 L332.00,179.13 L333.00,179.28 L334.00,179.43 L335.00,179.57 L336.00,179.71 L337.00,179.85 L338.00,179.99 L339.00,180.13 L340.00,180.27 L341.00,180.40 L342.00,180.54 L343.00,180.67 L344.00,180.80 L345.00,180.93 L346.00,181.06 L347.00,181.18 L348.00,181.31 L349.00,181.43 L350.00,181.55 L351.00,181.67 L352.00,181.79 L353.00,181.90 L354.00,182.02 L355.00,182.13 L356.00,182.24 L357.00,182.35 L358.00,182.46 L359.00,182.57 L360.00,182.68 L361.00,182.78 L362.00,182.89 L363.00,182.99 L364.00,183.09 L365.00,183.19 L366.00,183.28 L367.00,183.38 L368.00,183.47 L369.00,183.57 L370.00,183.66 L371.00,183.75 L372.00,183.84 L373.00,183.92 L374.00,184.01 L375.00,184.09 L376.00,184.18 L377.00,184.26 L378.00,184.34 L379.00,184.42 L380.00,184.49 L381.00,184.57 L382.00,184.64 L383.00,184.72 L384.00,184.79 L385.00,184.86 L386.00,184.93 L387.00,185.00 L388.00,185.07 L389.00,185.13 L390.00,185.20 L391.00,185.26 L392.00,185.32 L393.00,185.38 L394.00,185.44 L395.00,185.50 L396.00,185.56 L397.00,185.61 L398.00,185.67 L399.00,185.77 L400.00,185.77" stroke="#444444" stroke-width="0.68"/>
<path d="M71.00,15.40 L72.00,18.91 L73.00,22.37 L74.00,25.75 L75.00,29.07 L76.00,32.33 L77.00,35.52 L78.00,38.64 L79.00,41.69 L80.00,44.68 L81.00,47.61 L82.00,50.47 L83.00,53.26 L84.00,56.00 L85.00,58.67 L86.00,61.29 L87.00,63.84 L88.00,66.34 L89.00,68.79 L90.00,71.18 L91.00,73.52 L92.00,75.80 L93.00,78.04 L94.00,80.23 L95.00,82.37 L96.00,84.46 L97.00,86.51 L98.00,88.52 L99.00,90.48 L100.00,92.41 L101.00,94.29 L102.00,96.13 L103.00,97.93 L104.00,99.70 L105.00,101.44 L106.00,103.13 L107.00,104.80 L108.00,106.43 L109.00,108.02 L110.00,109.59 L111.00,111.13 L112.00,112.63 L113.00,114.11 L114.00,115.56 L115.00,116.98 L116.00,118.38 L117.00,119.75 L118.00,121.09 L119.00,122.41 L120.00,123.71 L121.00,124.98 L122.00,126.23 L123.00,127.46 L124.00,128.66 L125.00,129.85 L126.00,131.01 L127.00,132.15 L128.00,133.28 L129.00,134.38 L130.00,135.47" stroke="#444444" stroke-width="0.68"/>
<path d="M147.00,151.49 L148.00,152.30 L149.00,153.11 L150.00,153.90 L151.00,154.68 L152.00,155.45 L153.00,156.21 L154.00,156.96 L155.00,157.70 L156.00,158.42 L157.00,159.14 L158.00,159.85 L159.00,160.55 L160.00,161.24 L161.00,161.91 L162.00,162.58 L163.00,163.25 L164.00,163.90 L165.00,164.54 L166.00,165.18 L167.00,165.80 L168.00,166.42 L169.00,167.03 L170.00,167.63 L171.00,168.23 L172.00,168.81 L173.00,169.39 L174.00,169.97 L175.00,170.53 L176.00,171.09 L177.00,171.64 L178.00,172.19 L179.00,172.73 L180.00,173.26 L181.00,173.78 L182.00,174.30 L183.00,174.81 L184.00,175.32 L185.00,175.82 L186.00,176.32 L187.00,176.81 L188.00,177.29 L189.00,177.77 L190.00,178.24 L191.00,178.71 L192.00,179.17 L193.00,179.63 L194.00,180.08 L195.00,180.52 L196.00,180.97 L197.00,181.40 L198.00,181.84 L199.00,182.26 L200.00,182.68 L201.00,183.10 L202.00,183.52 L203.00,183.93 L204.00,184.33 L205.00,184.73 L206.00,185.13 L207.00,185.52 L208.00,185.91 L209.00,186.29 L210.00,186.67 L211.00,187.05 L212.00,187.42 L213.00,187.79 L214.00,188.15 L215.00,188.52 L216.00,188.87 L217.00,189.23 L218.00,189.58 L219.00,189.93 L220.00,190.27 L221.00,190.61 L222.00,190.95 L223.00,191.28 L224.00,191.61 L225.00,191.94 L226.00,192.26 L227.00,192.59 L228.00,192.90 L229.00,193.22 L230.00,193.53 L231.00,193.84 L232.00,194.15 L233.00,194.45 L234.00,194.75 L235.00,195.05 L236.00,195.35 L237.00,195.64 L238.00,195.93 L239.00,196.22 L240.00,196.50 L241.00,196.78 L242.00,197.06 L243.00,197.34 L244.00,197.62 L245.00,197.89 L246.00,198.16 L247.00,198.43 L248.00,198.69 L249.00,198.96 L250.00,199.22 L251.00,199.48 L252.00,199.73 L253.00,199.99 L254.00,200.24 L255.00,200.49 L256.00,200.74 L257.00,200.98 L258.00,201.23 L259.00,201.47 L260.00,201.71 L261.00,201.95 L262.00,202.18 L263.00,202.42 L264.00,202.65 L265.00,202.88 L266.00,203.11 L267.00,203.34 L268.00,203.56 L269.00,203.78 L270.00,204.01 L271.00,204.23 L272.00,204.44 L273.00,204.66 L274.00,204.87 L275.00,205.09 L276.00,205.30 L277.00,205.51 L278.00,205.72 L279.00,205.92 L280.00,206.13 L281.00,206.33 L282.00,206.53 L283.00,206.73 L284.00,206.93 L285.00,207.13 L286.00,207.32 L287.00,207.52 L288.00,207.71 L289.00,207.90 L290.00,208.09 L291.00,208.28 L292.00,208.47 L293.00,208.66 L294.00,208.84 L295.00,209.02 L296.00,209.21 L297.00,209.39 L298.00,209.57 L299.00,209.74 L300.00,209.92 L301.00,210.10 L302.00,210.27 L303.00,210.44 L304.00,210.62 L305.00,210.79 L306.00,210.96 L307.00,211.13 L308.00,211.29 L309.00,211.46 L310.00,211.62 L311.00,211.79 L312.00,211.95 L313.00,212.11 L314.00,212.27 L315.00,212.43 L316.00,212.59 L317.00,212.75 L318.00,212.90 L319.00,213.06 L320.00,213.21 L321.00,213.37 L322.00,213.52 L323.00,213.67 L324.00,213.82 L325.00,213.97 L326.00,214.12 L327.00,214.27 L328.00,214.41 L329.00,214.56 L330.00,214.70 L331.00,214.85 L332.00,214.99 L333.00,215.13 L334.00,215.27 L335.00,215.41 L336.00,215.55 L337.00,215.69 L338.00,215.83 L339.00,215.96 L340.00,216.10 L341.00,216.23 L342.00,216.37" stroke="#444444" stroke-width="0.68"/>
<path d="M366.00,219.35 L367.00,219.47 L368.00,219.58 L369.00,219.70 L370.00,219.81 L371.00,219.93 L372.00,220.04 L373.00,220.15 L374.00,220.26 L375.00,220.37 L376.00,220.48 L377.00,220.59 L378.00,220.70 L379.00,220.81 L380.00,220.91 L381.00,221.02 L382.00,221.13 L383.00,221.23 L384.00,221.34 L385.00,221.44 L386.00,221.55 L387.00,221.65 L388.00,221.75 L389.00,221.85 L390.00,221.96 L391.00,222.06 L392.00,222.16 L393.00,222.26 L394.00,222.36 L395.00,222.46 L396.00,222.55 L397.00,222.65 L398.00,222.75 L399.00,222.85 L400.00,222.94" stroke="#444444" stroke-width="0.68"/>
<path d="M72.00,31.07 L73.00,35.75 L74.00,40.23 L75.00,44.51 L76.00,48.61 L77.00,52.55 L78.00,56.34 L79.00,59.99 L80.00,63.51 L81.00,66.91 L82.00,70.19 L83.00,73.37 L84.00,76.45 L85.00,79.44 L86.00,82.33 L87.00,85.14 L88.00,87.87 L89.00,90.53 L90.00,93.11 L91.00,95.62 L92.00,98.07 L93.00,100.45 L94.00,102.78 L95.00,105.04 L96.00,107.25 L97.00,109.41 L98.00,111.51 L99.00,113.56 L100.00,115.57 L101.00,117.53 L102.00,119.44 L103.00,121.31 L104.00,123.14 L105.00,124.93 L106.00,126.68 L107.00,128.40 L108.00,130.07 L109.00,131.71 L110.00,133.32 L111.00,134.89 L112.00,136.44 L113.00,137.95 L114.00,139.42 L115.00,140.87 L116.00,142.30 L117.00,143.69 L118.00,145.05 L119.00,146.39 L120.00,147.71 L121.00,149.00 L122.00,150.26 L123.00,151.50 L124.00,152.72 L125.00,153.92 L126.00,155.09 L127.00,156.24 L128.00,157.37 L129.00,158.49 L130.00,159.58 L131.00,160.65 L132.00,161.70 L133.00,162.74 L134.00,163.76 L135.00,164.76 L136.00,165.74 L137.00,166.71 L138.00,167.66 L139.00,168.59 L140.00,169.51 L141.00,170.42 L142.00,171.31 L143.00,172.18 L144.00,173.04 L145.00,173.89 L146.00,174.72 L147.00,175.54 L148.00,176.35 L149.00,177.15 L150.00,177.93 L151.00,178.70 L152.00,179.46 L153.00,180.21 L154.00,180.94 L155.00,181.67 L156.00,182.38 L157.00,183.09 L158.00,183.78 L159.00,184.46 L160.00,185.14 L161.00,185.80 L162.00,186.45 L163.00,187.10 L164.00,187.73 L165.00,188.36 L166.00,188.98 L167.00,189.59 L168.00,190.19 L169.00,190.78 L170.00,191.36 L171.00,191.94 L172.00,192.51 L173.00,193.07 L174.00,193.62 L175.00,194.17 L176.00,194.71 L177.00,195.24 L178.00,195.76 L179.00,196.28 L180.00,196.79 L181.00,197.30 L182.00,197.79 L183.00,198.29 L184.00,198.77 L185.00,199.25 L186.00,199.72 L187.00,200.19 L188.00,200.65 L189.00,201.11 L190.00,201.56 L191.00,202.00 L192.00,202.44 L193.00,202.88 L194.00,203.30 L195.00,203.73 L196.00,204.15 L197.00,204.56 L198.00,204.97 L199.00,205.37 L200.00,205.77 L201.00,206.17 L202.00,206.56 L203.00,206.94 L204.00,207.32 L205.00,207.70 L206.00,208.07 L207.00,208.44 L208.00,208.80 L209.00,209.16 L210.00,209.52 L211.00,209.87 L212.00,210.22 L213.00,210.56 L214.00,210.90 L215.00,211.24 L216.00,211.57 L217.00,211.90 L218.00,212.23 L219.00,212.55 L220.00,212.87 L221.00,213.19 L222.00,213.50 L223.00,213.81 L224.00,214.11 L225.00,214.42 L226.00,214.72 L227.00,215.01 L228.00,215.31 L229.00,215.60 L230.00,215.89 L231.00,216.17 L232.00,216.45 L233.00,216.73 L234.00,217.01 L235.00,217.28 L236.00,217.55 L237.00,217.82 L238.00,218.09 L239.00,218.35 L240.00,218.61 L241.00,218.87 L242.00,219.12 L243.00,219.37 L244.00,219.63 L245.00,219.87 L246.00,220.12 L247.00,220.36 L248.00,220.60 L249.00,220.84 L250.00,221.08 L251.00,221.31 L252.00,221.55 L253.00,221.78 L254.00,222.00 L255.00,222.23 L256.00,222.45 L257.00,222.68 L258.00,222.90 L259.00,223.11 L260.00,223.33 L261.00,223.54 L262.00,223.76 L263.00,223.97 L264.00,224.18 L265.00,224.38 L266.00,224.59 L267.00,224.79 L268.00,224.99 L269.00,225.19 L270.00,225.39 L271.00,225.58 L272.00,225.78 L273.00,225.97 L274.00,226.16 L275.00,226.35 L276.00,226.54 L277.00,226.73 L278.00,226.91 L279.00,227.10 L280.00,227.28 L281.00,227.46 L282.00,227.64 L283.00,227.81 L284.00,227.99 L285.00,228.16 L286.00,228.34 L287.00,228.51 L288.00,228.68 L289.00,228.85 L290.00,229.02 L291.00,229.18 L292.00,229.35 L293.00,229.51 L294.00,229.67 L295.00,229.83 L296.00,229.99 L297.00,230.15 L298.00,230.31 L299.00,230.47 L300.00,230.62 L301.00,230.77 L302.00,230.93 L303.00,231.08 L304.00,231.23 L305.00,231.38 L306.00,231.53 L307.00,231.67 L308.00,231.82 L309.00,231.96 L310.00,232.11 L311.00,232.25 L312.00,232.39 L313.00,232.53 L314.00,232.67 L315.00,232.81 L316.00,232.95 L317.00,233.08 L318.00,233.22 L319.00,233.35 L320.00,233.49 L321.00,233.62 L322.00,233.75 L323.00,233.88 L324.00,234.01 L325.00,234.14 L326.00,234.27 L327.00,234.39 L328.00,234.52 L329.00,234.65 L330.00,234.77 L331.00,234.89 L332.00,235.02 L333.00,235.14 L334.00,235.26 L335.00,235.38 L336.00,235.50 L337.00,235.62 L338.00,235.73 L339.00,235.85 L340.00,235.97 L341.00,236.08 L342.00,236.20 L343.00,236.31 L344.00,236.42 L345.00,236.54 L346.00,236.65 L347.00,236.76 L348.00,236.87 L349.00,236.98 L350.00,237.09 L351.00,237.19 L352.00,237.30 L353.00,237.41 L354.00,237.51 L355.00,237.62 L356.00,237.72 L357.00,237.83 L358.00,237.93 L359.00,238.03 L360.00,238.13 L361.00,238.23 L362.00,238.34 L363.00,238.44 L364.00,238.53 L365.00,238.63 L366.00,238.73 L367.00,238.83 L368.00,238.93 L369.00,239.02 L370.00,239.12 L371.00,239.21 L372.00,239.31 L373.00,239.40 L374.00,239.49" stroke="#444444" stroke-width="1.3" stroke-dasharray="4.4 4.93" stroke-dashoffset="6.68"/>
<path d="M73.25,36.89 L73.50,38.01 L73.75,39.13 L74.00,40.23 L74.25,41.31 L74.50,42.39 L74.75,43.45 L75.00,44.51 L75.25,45.55 L75.50,46.58" stroke="#444444" stroke-width="1.3"/>
</g>
<g stroke="#1e1e1e" stroke-width="0.9" fill="none" stroke-linecap="butt">
<path d="M90.57,250.65 v-3.20 M90.57,23.00 v3.20"/>
<path d="M108.39,250.65 v-6.00 M108.39,23.00 v6.00"/>
<path d="M126.22,250.65 v-3.20 M126.22,23.00 v3.20"/>
<path d="M144.04,250.65 v-3.20 M144.04,23.00 v3.20"/>
<path d="M161.86,250.65 v-3.20 M161.86,23.00 v3.20"/>
<path d="M179.68,250.65 v-3.20 M179.68,23.00 v3.20"/>
<path d="M197.51,250.65 v-6.00 M197.51,23.00 v6.00"/>
<path d="M215.33,250.65 v-3.20 M215.33,23.00 v3.20"/>
<path d="M233.15,250.65 v-3.20 M233.15,23.00 v3.20"/>
<path d="M250.97,250.65 v-3.20 M250.97,23.00 v3.20"/>
<path d="M268.79,250.65 v-3.20 M268.79,23.00 v3.20"/>
<path d="M286.62,250.65 v-6.00 M286.62,23.00 v6.00"/>
<path d="M304.44,250.65 v-3.20 M304.44,23.00 v3.20"/>
<path d="M322.26,250.65 v-3.20 M322.26,23.00 v3.20"/>
<path d="M340.08,250.65 v-3.20 M340.08,23.00 v3.20"/>
<path d="M357.91,250.65 v-3.20 M357.91,23.00 v3.20"/>
<path d="M375.73,250.65 v-6.00 M375.73,23.00 v6.00"/>
<path d="M72.75,36.29 h3.20 M393.55,36.29 h-3.20"/>
<path d="M72.75,49.68 h6.00 M393.55,49.68 h-6.00"/>
<path d="M72.75,63.07 h3.20 M393.55,63.07 h-3.20"/>
<path d="M72.75,76.46 h3.20 M393.55,76.46 h-3.20"/>
<path d="M72.75,89.85 h3.20 M393.55,89.85 h-3.20"/>
<path d="M72.75,103.24 h6.00 M393.55,103.24 h-6.00"/>
<path d="M72.75,116.63 h3.20 M393.55,116.63 h-3.20"/>
<path d="M72.75,130.02 h3.20 M393.55,130.02 h-3.20"/>
<path d="M72.75,143.41 h3.20 M393.55,143.41 h-3.20"/>
<path d="M72.75,156.80 h6.00 M393.55,156.80 h-6.00"/>
<path d="M72.75,170.19 h3.20 M393.55,170.19 h-3.20"/>
<path d="M72.75,183.58 h3.20 M393.55,183.58 h-3.20"/>
<path d="M72.75,196.97 h3.20 M393.55,196.97 h-3.20"/>
<path d="M72.75,210.36 h6.00 M393.55,210.36 h-6.00"/>
<path d="M72.75,223.75 h3.20 M393.55,223.75 h-3.20"/>
<path d="M72.75,237.14 h3.20 M393.55,237.14 h-3.20"/>
</g>
<g clip-path="url(#cp)" fill="none" stroke-linecap="butt" stroke-linejoin="round">
<path d="M105.02,17.99 L105.07,19.01 L105.12,20.02 L105.19,21.03 L105.25,22.05 L105.33,23.06 L105.41,24.07 L105.49,25.08 L105.59,26.08 L105.68,27.09 L105.78,28.10 L105.89,29.10 L106.00,30.10 L106.12,31.11 L106.24,32.11 L106.36,33.11 L106.49,34.11 L106.62,35.11 L106.76,36.11 L106.90,37.11 L107.04,38.11 L107.18,39.11 L107.33,40.11 L107.48,41.11 L107.63,42.10 L107.78,43.10 L107.94,44.10 L108.10,45.09 L108.25,46.09 L108.41,47.09 L108.57,48.08 L108.74,49.08 L108.90,50.08 L109.06,51.07 L109.22,52.07 L109.38,53.06 L109.54,54.06 L109.70,55.06 L109.86,56.05 L110.02,57.05 L110.18,58.05 L110.34,59.05 L110.49,60.04 L110.65,61.04 L110.80,62.04 L110.95,63.04 L111.09,64.04 L111.24,65.04 L111.38,66.04 L111.52,67.04 L111.65,68.05 L111.78,69.05 L111.91,70.05 L112.03,71.06 L112.15,72.07 L112.27,73.07 L112.39,74.08 L112.51,75.08 L112.63,76.09 L112.75,77.09 L112.88,78.10 L113.01,79.10 L113.15,80.10 L113.29,81.10 L113.45,82.10 L113.61,83.09 L113.78,84.08 L113.96,85.07 L114.16,86.06 L114.36,87.04 L114.59,88.02 L114.82,89.00 L115.08,89.97 L115.35,90.94 L115.64,91.90 L115.95,92.86 L116.28,93.81 L116.63,94.76 L116.99,95.70 L117.38,96.64 L117.79,97.57 L118.21,98.49 L118.66,99.41 L119.12,100.31 L119.60,101.21 L120.10,102.10 L120.61,102.98 L121.14,103.85 L121.69,104.71 L122.25,105.56 L122.83,106.40 L123.43,107.23 L124.04,108.05 L124.67,108.86 L125.31,109.65 L125.96,110.43 L126.63,111.20 L127.31,111.96 L128.01,112.70 L128.72,113.43 L129.44,114.14 L130.18,114.83 L130.92,115.52 L131.68,116.18 L132.45,116.83 L133.24,117.47 L134.03,118.08 L134.83,118.68 L135.65,119.26 L136.47,119.83 L137.31,120.37 L138.15,120.90 L139.01,121.42 L139.87,121.91 L140.74,122.40 L141.62,122.86 L142.51,123.31 L143.41,123.75 L144.31,124.18 L145.22,124.59 L146.14,124.99 L147.07,125.38 L148.00,125.75 L148.93,126.12 L149.88,126.47 L150.82,126.81 L151.78,127.15 L152.74,127.47 L153.70,127.79 L154.67,128.10 L155.64,128.40 L156.61,128.69 L157.59,128.97 L158.57,129.25 L159.55,129.53 L160.54,129.80 L161.53,130.06 L162.52,130.32 L163.51,130.58 L164.50,130.83 L165.50,131.08 L166.49,131.33 L167.49,131.57 L168.48,131.82 L169.48,132.06 L170.47,132.30 L171.47,132.54 L172.46,132.79 L173.45,133.03 L174.44,133.28 L175.43,133.52 L176.41,133.77 L177.40,134.03 L178.38,134.28 L179.35,134.54 L180.32,134.81 L181.29,135.08 L182.26,135.35 L183.22,135.63 L184.18,135.91 L185.14,136.20 L186.10,136.50 L187.05,136.80 L188.00,137.10 L188.95,137.41 L189.90,137.73 L190.85,138.05 L191.80,138.38 L192.74,138.71 L193.68,139.06 L194.62,139.42 L195.55,139.79 L196.48,140.18 L197.39,140.58 L198.30,141.00 L199.20,141.44 L200.08,141.91 L200.95,142.39 L201.82,142.90 L202.67,143.42 L203.51,143.97 L204.35,144.52 L205.18,145.09 L206.00,145.66 L206.82,146.25 L207.64,146.84 L208.45,147.43 L209.26,148.03 L210.07,148.63 L210.87,149.24 L211.68,149.85 L212.48,150.46 L213.28,151.07 L214.09,151.69 L214.89,152.31 L215.69,152.93 L216.49,153.55 L217.29,154.17 L218.09,154.80 L218.89,155.42 L219.69,156.04 L220.50,156.66 L221.30,157.28 L222.11,157.90 L222.92,158.51 L223.73,159.13 L224.54,159.75 L225.34,160.37 L226.15,160.99 L226.95,161.61 L227.75,162.23 L228.55,162.86 L229.34,163.49 L230.13,164.12 L230.91,164.75 L231.69,165.39 L232.46,166.04 L233.22,166.69 L233.98,167.35 L234.72,168.01 L235.45,168.69 L236.16,169.38 L236.86,170.09 L237.54,170.81 L238.20,171.54 L238.84,172.30 L239.46,173.07 L240.06,173.85 L240.65,174.66 L241.22,175.48 L241.78,176.31 L242.33,177.15 L242.87,178.01 L243.41,178.88 L243.94,179.75 L244.46,180.64 L244.99,181.53 L245.52,182.42 L246.05,183.31 L246.58,184.20 L247.11,185.09 L247.66,185.97 L248.21,186.84 L248.77,187.71 L249.34,188.56 L249.92,189.40 L250.52,190.23 L251.13,191.04 L251.76,191.83 L252.41,192.60 L253.08,193.34 L253.77,194.06 L254.48,194.76 L255.22,195.42 L255.98,196.05 L256.77,196.66 L257.58,197.24 L258.40,197.80 L259.25,198.33 L260.11,198.84 L260.98,199.34 L261.86,199.82 L262.76,200.28 L263.66,200.73 L264.57,201.17 L265.49,201.59 L266.41,202.01 L267.33,202.43 L268.26,202.83 L269.18,203.23 L270.12,203.61 L271.05,203.99 L271.99,204.37 L272.93,204.73 L273.87,205.09 L274.82,205.44 L275.77,205.79 L276.72,206.13 L277.67,206.46 L278.63,206.78 L279.59,207.10 L280.55,207.42 L281.51,207.72 L282.48,208.02 L283.44,208.32 L284.41,208.61 L285.38,208.89 L286.36,209.17 L287.33,209.45 L288.31,209.72 L289.29,209.99 L290.27,210.25 L291.25,210.50 L292.23,210.76 L293.21,211.00 L294.20,211.25 L295.19,211.49 L296.17,211.73 L297.16,211.96 L298.15,212.19 L299.14,212.42 L300.13,212.64 L301.13,212.86 L302.12,213.08 L303.11,213.30 L304.10,213.51 L305.10,213.72 L306.09,213.93 L307.09,214.14 L308.08,214.35 L309.08,214.55 L310.07,214.75 L311.07,214.95 L312.06,215.15 L313.06,215.35 L314.05,215.55 L315.05,215.75 L316.04,215.94 L317.04,216.14 L318.03,216.33 L319.03,216.52 L320.02,216.71 L321.02,216.90 L322.01,217.09 L323.01,217.28 L324.00,217.46 L325.00,217.65 L325.99,217.83 L326.99,218.01 L327.98,218.20 L328.97,218.38 L329.97,218.55 L330.96,218.73 L331.96,218.91 L332.95,219.08 L333.95,219.26 L334.94,219.43 L335.94,219.60 L336.93,219.77 L337.93,219.94 L338.93,220.11 L339.92,220.28 L340.92,220.45 L341.91,220.61 L342.91,220.77 L343.90,220.94 L344.90,221.10 L345.90,221.26 L346.89,221.42 L347.89,221.57 L348.89,221.73 L349.88,221.89 L350.88,222.04 L351.88,222.19 L352.87,222.35 L353.87,222.50 L354.87,222.65 L355.87,222.80 L356.86,222.94 L357.86,223.09 L358.86,223.23 L359.86,223.38 L360.86,223.52 L361.86,223.66 L362.86,223.80 L363.86,223.94 L364.86,224.08 L365.86,224.22 L366.86,224.35 L367.86,224.49 L368.86,224.62 L369.86,224.75 L370.86,224.88 L371.86,225.01 L372.86,225.14 L373.87,225.27 L374.87,225.40 L375.87,225.52 L376.88,225.65 L377.88,225.77 L378.88,225.89 L379.89,226.01 L380.89,226.13 L381.90,226.25 L382.90,226.37 L383.91,226.49 L384.91,226.60 L385.92,226.71 L386.93,226.83 L387.93,226.94 L388.94,227.05 L389.95,227.16 L390.96,227.27 L391.97,227.37 L392.98,227.48 L393.99,227.59 L395.00,227.69 L396.01,227.79 L397.02,227.89 L398.03,227.99" stroke="#ff8000" stroke-width="1.6"/>
<path d="M104.98,17.99 L105.04,18.99 L105.11,19.98 L105.19,20.97 L105.27,21.97 L105.35,22.96 L105.44,23.95 L105.53,24.93 L105.62,25.92 L105.72,26.91 L105.83,27.90 L105.94,28.88 L106.05,29.87 L106.16,30.85 L106.28,31.83 L106.40,32.81 L106.52,33.80 L106.64,34.78 L106.77,35.76 L106.90,36.74 L107.04,37.72 L107.17,38.70 L107.31,39.68 L107.45,40.66 L107.59,41.63 L107.73,42.61 L107.87,43.59 L108.02,44.57 L108.17,45.54 L108.31,46.52 L108.46,47.50 L108.61,48.48 L108.76,49.45 L108.91,50.43 L109.06,51.41 L109.21,52.38 L109.36,53.36 L109.52,54.34 L109.67,55.31 L109.82,56.29 L109.97,57.27 L110.12,58.25 L110.27,59.23 L110.41,60.21 L110.56,61.18 L110.71,62.16 L110.85,63.14 L111.00,64.12 L111.14,65.11 L111.28,66.09 L111.42,67.07 L111.55,68.05 L111.69,69.04 L111.82,70.02 L111.95,71.00 L112.08,71.99 L112.21,72.98 L112.33,73.96 L112.46,74.95 L112.59,75.93 L112.72,76.92 L112.86,77.90 L113.00,78.88 L113.15,79.86 L113.30,80.84 L113.46,81.82 L113.62,82.79 L113.79,83.77 L113.98,84.74 L114.17,85.71 L114.37,86.67 L114.59,87.63 L114.81,88.59 L115.05,89.55 L115.31,90.50 L115.58,91.44 L115.86,92.39 L116.16,93.33 L116.48,94.26 L116.81,95.19 L117.17,96.11 L117.54,97.03 L117.93,97.94 L118.35,98.84 L118.78,99.74 L119.23,100.63 L119.70,101.51 L120.18,102.39 L120.69,103.25 L121.21,104.11 L121.75,104.95 L122.30,105.79 L122.87,106.61 L123.46,107.42 L124.06,108.22 L124.68,109.01 L125.31,109.78 L125.96,110.54 L126.62,111.29 L127.29,112.02 L127.98,112.73 L128.68,113.43 L129.39,114.12 L130.12,114.79 L130.86,115.44 L131.61,116.08 L132.37,116.71 L133.15,117.32 L133.93,117.92 L134.72,118.50 L135.53,119.07 L136.34,119.63 L137.17,120.17 L138.00,120.70 L138.84,121.21 L139.69,121.71 L140.55,122.20 L141.41,122.67 L142.29,123.13 L143.17,123.58 L144.05,124.01 L144.94,124.43 L145.84,124.84 L146.75,125.23 L147.66,125.62 L148.57,125.99 L149.49,126.34 L150.42,126.69 L151.35,127.03 L152.28,127.35 L153.22,127.67 L154.16,127.98 L155.10,128.28 L156.05,128.57 L157.00,128.86 L157.96,129.13 L158.91,129.40 L159.87,129.67 L160.84,129.93 L161.80,130.18 L162.77,130.43 L163.73,130.67 L164.70,130.91 L165.67,131.15 L166.64,131.39 L167.61,131.62 L168.59,131.85 L169.56,132.09 L170.53,132.32 L171.51,132.55 L172.48,132.78 L173.45,133.01 L174.42,133.24 L175.39,133.48 L176.36,133.71 L177.33,133.95 L178.29,134.20 L179.26,134.44 L180.22,134.69 L181.18,134.95 L182.14,135.21 L183.09,135.48 L184.04,135.75 L184.99,136.04 L185.93,136.32 L186.87,136.62 L187.81,136.92 L188.75,137.24 L189.67,137.56 L190.60,137.89 L191.52,138.23 L192.43,138.59 L193.34,138.95 L194.25,139.33 L195.15,139.72 L196.04,140.12 L196.92,140.53 L197.80,140.96 L198.68,141.40 L199.54,141.85 L200.40,142.32 L201.25,142.80 L202.10,143.30 L202.94,143.81 L203.77,144.33 L204.60,144.86 L205.42,145.40 L206.24,145.95 L207.05,146.51 L207.86,147.07 L208.67,147.64 L209.47,148.22 L210.28,148.79 L211.08,149.38 L211.87,149.96 L212.67,150.55 L213.47,151.14 L214.26,151.72 L215.06,152.31 L215.85,152.90 L216.65,153.49 L217.44,154.08 L218.23,154.67 L219.02,155.26 L219.81,155.85 L220.60,156.45 L221.38,157.05 L222.16,157.66 L222.94,158.26 L223.72,158.87 L224.50,159.49 L225.27,160.11 L226.04,160.73 L226.81,161.37 L227.57,162.00 L228.33,162.64 L229.09,163.29 L229.84,163.93 L230.60,164.59 L231.35,165.24 L232.10,165.90 L232.85,166.56 L233.60,167.22 L234.34,167.89 L235.09,168.55 L235.84,169.22 L236.58,169.88 L237.33,170.55 L238.07,171.22 L238.82,171.88 L239.57,172.54 L240.32,173.21 L241.07,173.87 L241.82,174.52 L242.57,175.18 L243.33,175.83 L244.09,176.48 L244.85,177.12 L245.61,177.76 L246.38,178.39 L247.15,179.02 L247.92,179.64 L248.69,180.26 L249.47,180.87 L250.26,181.47 L251.05,182.07 L251.84,182.66 L252.64,183.24 L253.44,183.81 L254.25,184.37 L255.07,184.92 L255.89,185.47 L256.71,186.00 L257.55,186.52 L258.39,187.03 L259.23,187.54 L260.08,188.03 L260.94,188.51 L261.80,188.98 L262.67,189.44 L263.54,189.89 L264.42,190.34 L265.30,190.77 L266.19,191.20 L267.08,191.62 L267.98,192.02 L268.88,192.42 L269.79,192.82 L270.69,193.20 L271.61,193.58 L272.52,193.95 L273.44,194.31 L274.37,194.66 L275.29,195.01 L276.22,195.35 L277.15,195.69 L278.09,196.02 L279.02,196.34 L279.96,196.65 L280.90,196.96 L281.84,197.27 L282.79,197.57 L283.73,197.86 L284.68,198.15 L285.63,198.43 L286.58,198.71 L287.53,198.98 L288.49,199.25 L289.44,199.52 L290.40,199.78 L291.36,200.03 L292.32,200.28 L293.28,200.53 L294.24,200.77 L295.20,201.01 L296.17,201.24 L297.13,201.47 L298.10,201.70 L299.07,201.92 L300.04,202.14 L301.01,202.36 L301.98,202.57 L302.95,202.78 L303.92,202.99 L304.90,203.19 L305.87,203.39 L306.85,203.59 L307.82,203.79 L308.80,203.98 L309.77,204.17 L310.75,204.36 L311.73,204.54 L312.71,204.73 L313.69,204.91 L314.66,205.09 L315.64,205.27 L316.62,205.45 L317.60,205.62 L318.58,205.80 L319.56,205.97 L320.54,206.14 L321.52,206.31 L322.50,206.48 L323.48,206.65 L324.46,206.82 L325.44,206.99 L326.42,207.15 L327.40,207.32 L328.38,207.49 L329.36,207.65 L330.34,207.82 L331.32,207.98 L332.30,208.15 L333.28,208.31 L334.26,208.48 L335.24,208.64 L336.21,208.80 L337.19,208.97 L338.17,209.13 L339.15,209.29 L340.13,209.45 L341.10,209.61 L342.08,209.77 L343.06,209.93 L344.04,210.09 L345.01,210.25 L345.99,210.41 L346.97,210.57 L347.94,210.72 L348.92,210.88 L349.90,211.03 L350.88,211.19 L351.85,211.34 L352.83,211.50 L353.81,211.65 L354.79,211.80 L355.76,211.95 L356.74,212.10 L357.72,212.25 L358.70,212.40 L359.68,212.55 L360.65,212.69 L361.63,212.84 L362.61,212.99 L363.59,213.13 L364.57,213.27 L365.55,213.42 L366.53,213.56 L367.50,213.70 L368.48,213.84 L369.46,213.98 L370.44,214.12 L371.42,214.25 L372.40,214.39 L373.39,214.53 L374.37,214.66 L375.35,214.79 L376.33,214.92 L377.31,215.06 L378.29,215.18 L379.28,215.31 L380.26,215.44 L381.24,215.57 L382.23,215.69 L383.21,215.82 L384.19,215.94 L385.18,216.06 L386.16,216.18 L387.15,216.30 L388.14,216.42 L389.12,216.54 L390.11,216.65 L391.10,216.77 L392.08,216.88 L393.07,216.99 L394.06,217.10 L395.05,217.21 L396.04,217.32 L397.03,217.42 L398.02,217.53" stroke="#ff0000" stroke-width="1.6"/>
<path d="M105.02,18.00 L105.07,19.03 L105.13,20.06 L105.19,21.09 L105.26,22.13 L105.34,23.16 L105.42,24.18 L105.51,25.21 L105.61,26.24 L105.71,27.27 L105.81,28.29 L105.92,29.32 L106.04,30.34 L106.16,31.36 L106.28,32.39 L106.41,33.41 L106.54,34.43 L106.68,35.45 L106.82,36.47 L106.96,37.49 L107.10,38.51 L107.25,39.53 L107.40,40.55 L107.55,41.57 L107.71,42.59 L107.86,43.61 L108.02,44.63 L108.18,45.64 L108.34,46.66 L108.50,47.68 L108.67,48.70 L108.83,49.71 L108.99,50.73 L109.16,51.75 L109.32,52.77 L109.49,53.78 L109.65,54.80 L109.81,55.82 L109.97,56.84 L110.14,57.86 L110.29,58.87 L110.45,59.89 L110.61,60.91 L110.76,61.93 L110.92,62.95 L111.07,63.97 L111.21,64.99 L111.36,66.01 L111.50,67.03 L111.64,68.06 L111.77,69.08 L111.90,70.10 L112.03,71.13 L112.16,72.15 L112.28,73.18 L112.40,74.20 L112.53,75.22 L112.65,76.25 L112.78,77.27 L112.91,78.29 L113.05,79.31 L113.19,80.33 L113.35,81.35 L113.50,82.36 L113.67,83.38 L113.85,84.39 L114.04,85.40 L114.25,86.40 L114.46,87.40 L114.69,88.40 L114.94,89.40 L115.21,90.39 L115.49,91.37 L115.79,92.36 L116.11,93.33 L116.46,94.31 L116.82,95.27 L117.20,96.24 L117.60,97.19 L118.02,98.14 L118.46,99.08 L118.92,100.01 L119.40,100.94 L119.89,101.85 L120.40,102.76 L120.93,103.66 L121.48,104.55 L122.04,105.43 L122.62,106.30 L123.21,107.15 L123.82,108.00 L124.45,108.83 L125.09,109.65 L125.75,110.46 L126.42,111.25 L127.10,112.03 L127.80,112.80 L128.52,113.55 L129.25,114.29 L129.99,115.01 L130.74,115.71 L131.51,116.40 L132.28,117.07 L133.07,117.72 L133.88,118.36 L134.69,118.98 L135.52,119.58 L136.35,120.16 L137.20,120.72 L138.06,121.27 L138.92,121.80 L139.80,122.31 L140.69,122.80 L141.58,123.28 L142.49,123.75 L143.40,124.20 L144.32,124.63 L145.25,125.05 L146.18,125.46 L147.13,125.86 L148.07,126.24 L149.03,126.62 L149.99,126.98 L150.96,127.33 L151.93,127.67 L152.91,128.00 L153.89,128.32 L154.88,128.64 L155.87,128.94 L156.87,129.24 L157.87,129.53 L158.87,129.82 L159.87,130.10 L160.88,130.37 L161.89,130.64 L162.90,130.90 L163.92,131.16 L164.93,131.42 L165.95,131.67 L166.96,131.92 L167.98,132.17 L168.99,132.42 L170.01,132.67 L171.02,132.92 L172.04,133.16 L173.05,133.41 L174.06,133.66 L175.07,133.91 L176.08,134.16 L177.08,134.42 L178.08,134.68 L179.08,134.94 L180.08,135.21 L181.07,135.48 L182.05,135.75 L183.04,136.04 L184.02,136.32 L184.99,136.61 L185.97,136.91 L186.94,137.22 L187.91,137.53 L188.88,137.84 L189.85,138.17 L190.82,138.50 L191.78,138.84 L192.74,139.19 L193.70,139.54 L194.65,139.92 L195.60,140.30 L196.54,140.70 L197.47,141.12 L198.40,141.56 L199.31,142.02 L200.21,142.50 L201.09,143.01 L201.97,143.53 L202.84,144.07 L203.70,144.63 L204.55,145.20 L205.39,145.78 L206.23,146.37 L207.06,146.96 L207.89,147.57 L208.71,148.18 L209.54,148.79 L210.35,149.41 L211.17,150.04 L211.98,150.66 L212.80,151.29 L213.61,151.92 L214.42,152.56 L215.23,153.19 L216.05,153.83 L216.86,154.46 L217.68,155.10 L218.50,155.73 L219.32,156.36 L220.15,156.99 L220.98,157.61 L221.82,158.24 L222.65,158.86 L223.49,159.48 L224.32,160.11 L225.16,160.73 L225.99,161.36 L226.82,161.99 L227.65,162.63 L228.47,163.27 L229.28,163.91 L230.08,164.57 L230.88,165.23 L231.67,165.90 L232.44,166.58 L233.21,167.27 L233.95,167.97 L234.69,168.69 L235.40,169.41 L236.10,170.15 L236.77,170.91 L237.42,171.68 L238.05,172.46 L238.65,173.26 L239.22,174.08 L239.77,174.92 L240.28,175.78 L240.76,176.65 L241.21,177.55 L241.63,178.46 L242.01,179.40 L242.37,180.35 L242.71,181.32 L243.03,182.29 L243.34,183.28 L243.64,184.28 L243.94,185.28 L244.24,186.29 L244.55,187.29 L244.87,188.30 L245.21,189.30 L245.56,190.30 L245.94,191.30 L246.35,192.28 L246.79,193.25 L247.25,194.21 L247.74,195.16 L248.26,196.09 L248.80,197.01 L249.36,197.90 L249.95,198.78 L250.57,199.63 L251.21,200.46 L251.87,201.26 L252.55,202.03 L253.26,202.78 L253.98,203.50 L254.73,204.19 L255.50,204.86 L256.28,205.50 L257.08,206.12 L257.90,206.72 L258.74,207.30 L259.59,207.85 L260.45,208.39 L261.33,208.91 L262.22,209.41 L263.12,209.89 L264.03,210.36 L264.96,210.81 L265.89,211.25 L266.83,211.67 L267.78,212.09 L268.73,212.49 L269.69,212.88 L270.66,213.26 L271.63,213.64 L272.60,214.00 L273.57,214.36 L274.55,214.72 L275.53,215.07 L276.51,215.41 L277.49,215.75 L278.47,216.09 L279.45,216.42 L280.43,216.74 L281.42,217.06 L282.40,217.38 L283.39,217.69 L284.38,218.00 L285.37,218.30 L286.36,218.60 L287.35,218.89 L288.34,219.18 L289.33,219.46 L290.33,219.74 L291.32,220.02 L292.32,220.29 L293.31,220.56 L294.31,220.82 L295.31,221.09 L296.31,221.34 L297.31,221.60 L298.31,221.84 L299.31,222.09 L300.31,222.33 L301.31,222.57 L302.32,222.81 L303.32,223.04 L304.33,223.27 L305.33,223.49 L306.34,223.71 L307.35,223.93 L308.36,224.15 L309.37,224.36 L310.38,224.57 L311.39,224.78 L312.40,224.98 L313.41,225.19 L314.42,225.38 L315.43,225.58 L316.45,225.77 L317.46,225.97 L318.47,226.15 L319.49,226.34 L320.50,226.53 L321.52,226.71 L322.54,226.89 L323.55,227.06 L324.57,227.24 L325.59,227.41 L326.61,227.58 L327.62,227.75 L328.64,227.92 L329.66,228.09 L330.68,228.25 L331.70,228.41 L332.72,228.57 L333.74,228.73 L334.76,228.89 L335.78,229.05 L336.80,229.20 L337.83,229.36 L338.85,229.51 L339.87,229.66 L340.89,229.81 L341.91,229.96 L342.94,230.11 L343.96,230.26 L344.98,230.40 L346.00,230.55 L347.03,230.69 L348.05,230.84 L349.07,230.98 L350.10,231.13 L351.12,231.27 L352.14,231.41 L353.17,231.55 L354.19,231.70 L355.21,231.84 L356.24,231.98 L357.26,232.12 L358.28,232.26 L359.31,232.40 L360.33,232.54 L361.35,232.68 L362.37,232.83 L363.40,232.97 L364.42,233.11 L365.44,233.25 L366.46,233.39 L367.49,233.54 L368.51,233.68 L369.53,233.83 L370.55,233.97 L371.57,234.12 L372.59,234.26 L373.61,234.41 L374.63,234.56 L375.65,234.71 L376.67,234.86 L377.69,235.01 L378.71,235.17 L379.73,235.32 L380.75,235.48 L381.76,235.63 L382.78,235.79 L383.80,235.95 L384.81,236.11 L385.83,236.27 L386.84,236.44 L387.86,236.61 L388.87,236.77 L389.89,236.94 L390.90,237.12 L391.91,237.29 L392.93,237.47 L393.94,237.64 L394.95,237.82 L395.96,238.01 L396.97,238.19 L397.98,238.38" stroke="#0000ff" stroke-width="1.6"/>
<path d="M104.98,17.96 L105.04,18.87 L105.10,19.79 L105.17,20.71 L105.24,21.62 L105.31,22.53 L105.39,23.44 L105.47,24.34 L105.55,25.25 L105.64,26.15 L105.73,27.05 L105.82,27.95 L105.92,28.85 L106.02,29.75 L106.12,30.64 L106.22,31.54 L106.33,32.43 L106.44,33.32 L106.55,34.21 L106.67,35.10 L106.79,35.99 L106.91,36.88 L107.03,37.76 L107.15,38.65 L107.27,39.53 L107.40,40.42 L107.53,41.30 L107.66,42.19 L107.79,43.07 L107.92,43.95 L108.05,44.83 L108.19,45.71 L108.32,46.60 L108.46,47.48 L108.59,48.36 L108.73,49.24 L108.87,50.12 L109.00,51.00 L109.14,51.88 L109.28,52.76 L109.42,53.65 L109.56,54.53 L109.70,55.41 L109.83,56.30 L109.97,57.18 L110.11,58.06 L110.24,58.95 L110.38,59.84 L110.52,60.72 L110.65,61.61 L110.78,62.50 L110.92,63.39 L111.05,64.28 L111.18,65.17 L111.30,66.07 L111.43,66.96 L111.56,67.86 L111.68,68.75 L111.80,69.65 L111.92,70.55 L112.04,71.45 L112.16,72.36 L112.27,73.26 L112.39,74.16 L112.51,75.07 L112.63,75.97 L112.75,76.88 L112.87,77.78 L113.00,78.69 L113.13,79.59 L113.26,80.49 L113.40,81.39 L113.55,82.29 L113.70,83.18 L113.86,84.08 L114.03,84.97 L114.20,85.86 L114.38,86.74 L114.57,87.62 L114.78,88.50 L114.99,89.38 L115.21,90.25 L115.44,91.11 L115.69,91.98 L115.95,92.83 L116.22,93.68 L116.51,94.53 L116.81,95.37 L117.12,96.21 L117.45,97.03 L117.80,97.86 L118.16,98.67 L118.54,99.48 L118.93,100.28 L119.34,101.08 L119.76,101.87 L120.19,102.65 L120.64,103.42 L121.11,104.19 L121.58,104.95 L122.07,105.70 L122.58,106.44 L123.09,107.17 L123.62,107.90 L124.16,108.62 L124.71,109.33 L125.28,110.03 L125.86,110.72 L126.44,111.41 L127.04,112.08 L127.65,112.74 L128.27,113.40 L128.91,114.05 L129.55,114.68 L130.20,115.31 L130.86,115.92 L131.53,116.53 L132.22,117.13 L132.91,117.71 L133.60,118.29 L134.31,118.85 L135.03,119.40 L135.75,119.95 L136.49,120.48 L137.23,121.00 L137.97,121.51 L138.73,122.00 L139.49,122.49 L140.26,122.96 L141.04,123.42 L141.82,123.87 L142.61,124.31 L143.40,124.73 L144.20,125.15 L145.00,125.55 L145.82,125.93 L146.63,126.30 L147.45,126.67 L148.28,127.01 L149.11,127.35 L149.94,127.68 L150.78,127.99 L151.62,128.30 L152.47,128.59 L153.31,128.88 L154.17,129.15 L155.02,129.42 L155.88,129.68 L156.75,129.94 L157.61,130.18 L158.48,130.42 L159.35,130.65 L160.22,130.88 L161.10,131.10 L161.97,131.32 L162.85,131.54 L163.73,131.74 L164.61,131.95 L165.50,132.16 L166.38,132.36 L167.26,132.56 L168.15,132.75 L169.04,132.95 L169.92,133.15 L170.81,133.34 L171.70,133.54 L172.58,133.74 L173.47,133.94 L174.36,134.14 L175.24,134.34 L176.13,134.55 L177.01,134.76 L177.89,134.97 L178.77,135.19 L179.65,135.41 L180.53,135.64 L181.41,135.87 L182.28,136.11 L183.16,136.36 L184.03,136.61 L184.89,136.86 L185.76,137.13 L186.62,137.40 L187.48,137.68 L188.33,137.97 L189.18,138.26 L190.03,138.57 L190.87,138.88 L191.70,139.20 L192.54,139.53 L193.36,139.87 L194.19,140.22 L195.00,140.58 L195.81,140.95 L196.62,141.33 L197.41,141.72 L198.21,142.12 L198.99,142.53 L199.77,142.96 L200.54,143.40 L201.30,143.85 L202.06,144.31 L202.81,144.78 L203.56,145.25 L204.30,145.74 L205.04,146.24 L205.77,146.74 L206.50,147.25 L207.23,147.77 L207.95,148.29 L208.67,148.81 L209.39,149.35 L210.11,149.88 L210.82,150.42 L211.54,150.96 L212.25,151.50 L212.97,152.05 L213.68,152.59 L214.39,153.14 L215.11,153.69 L215.82,154.23 L216.54,154.78 L217.26,155.33 L217.98,155.88 L218.70,156.42 L219.43,156.97 L220.16,157.51 L220.89,158.06 L221.62,158.60 L222.35,159.14 L223.08,159.69 L223.82,160.23 L224.55,160.78 L225.28,161.33 L226.01,161.89 L226.73,162.45 L227.45,163.01 L228.16,163.58 L228.87,164.15 L229.57,164.73 L230.27,165.32 L230.96,165.91 L231.64,166.51 L232.31,167.12 L232.96,167.74 L233.61,168.37 L234.24,169.00 L234.86,169.65 L235.46,170.30 L236.05,170.97 L236.61,171.65 L237.16,172.34 L237.69,173.04 L238.20,173.75 L238.68,174.47 L239.14,175.21 L239.57,175.96 L239.98,176.72 L240.37,177.50 L240.72,178.29 L241.04,179.10 L241.34,179.92 L241.60,180.75 L241.85,181.60 L242.06,182.46 L242.26,183.33 L242.43,184.21 L242.59,185.10 L242.74,186.00 L242.87,186.90 L242.99,187.81 L243.10,188.72 L243.20,189.64 L243.30,190.56 L243.41,191.48 L243.51,192.40 L243.61,193.32 L243.73,194.24 L243.85,195.16 L243.98,196.08 L244.13,196.99 L244.29,197.90 L244.47,198.80 L244.67,199.69 L244.90,200.58 L245.14,201.45 L245.42,202.32 L245.71,203.18 L246.03,204.03 L246.38,204.87 L246.74,205.69 L247.13,206.50 L247.54,207.30 L247.97,208.09 L248.43,208.87 L248.90,209.63 L249.40,210.37 L249.91,211.10 L250.45,211.82 L251.01,212.51 L251.58,213.19 L252.18,213.86 L252.79,214.50 L253.43,215.13 L254.08,215.74 L254.75,216.32 L255.43,216.89 L256.14,217.44 L256.86,217.96 L257.59,218.47 L258.35,218.95 L259.12,219.41 L259.90,219.85 L260.69,220.27 L261.50,220.68 L262.31,221.07 L263.14,221.44 L263.97,221.81 L264.80,222.16 L265.64,222.50 L266.48,222.83 L267.33,223.16 L268.18,223.47 L269.03,223.78 L269.88,224.08 L270.74,224.38 L271.60,224.67 L272.46,224.95 L273.32,225.23 L274.18,225.51 L275.04,225.78 L275.91,226.04 L276.78,226.30 L277.64,226.56 L278.51,226.82 L279.38,227.07 L280.25,227.33 L281.12,227.58 L281.98,227.83 L282.85,228.08 L283.72,228.33 L284.59,228.58 L285.46,228.83 L286.32,229.08 L287.19,229.32 L288.06,229.57 L288.93,229.82 L289.79,230.07 L290.66,230.31 L291.53,230.56 L292.39,230.80 L293.26,231.05 L294.13,231.29 L294.99,231.53 L295.86,231.77 L296.73,232.01 L297.60,232.25 L298.46,232.49 L299.33,232.72 L300.20,232.95 L301.07,233.19 L301.94,233.42 L302.81,233.64 L303.68,233.87 L304.55,234.09 L305.42,234.31 L306.29,234.53 L307.16,234.75 L308.03,234.96 L308.91,235.17 L309.78,235.38 L310.65,235.59 L311.53,235.79 L312.40,235.99 L313.28,236.19 L314.16,236.39 L315.04,236.58 L315.92,236.77 L316.80,236.95 L317.68,237.13 L318.56,237.31 L319.44,237.48 L320.32,237.65 L321.21,237.82 L322.09,237.99 L322.98,238.14 L323.87,238.30 L324.76,238.45 L325.65,238.60 L326.54,238.74 L327.43,238.88 L328.33,239.01 L329.22,239.14 L330.12,239.27 L331.02,239.39 L331.92,239.50 L332.82,239.61 L333.72,239.72 L334.63,239.82 L335.53,239.91" stroke="#ff0000" stroke-width="1.6"/>
<path d="M106.02,17.99 L106.05,18.95 L106.09,19.92 L106.14,20.88 L106.20,21.84 L106.27,22.80 L106.35,23.75 L106.44,24.71 L106.54,25.66 L106.65,26.61 L106.76,27.56 L106.89,28.51 L107.02,29.46 L107.15,30.41 L107.30,31.35 L107.45,32.29 L107.60,33.24 L107.76,34.18 L107.93,35.12 L108.09,36.06 L108.27,37.00 L108.44,37.94 L108.62,38.87 L108.80,39.81 L108.98,40.75 L109.16,41.69 L109.34,42.62 L109.52,43.56 L109.70,44.49 L109.88,45.43 L110.06,46.36 L110.24,47.30 L110.42,48.24 L110.60,49.17 L110.78,50.11 L110.95,51.04 L111.13,51.98 L111.30,52.92 L111.47,53.85 L111.64,54.79 L111.81,55.73 L111.98,56.66 L112.15,57.60 L112.32,58.54 L112.49,59.48 L112.65,60.42 L112.82,61.36 L112.98,62.29 L113.15,63.23 L113.31,64.18 L113.47,65.12 L113.63,66.06 L113.79,67.00 L113.95,67.94 L114.11,68.89 L114.27,69.83 L114.42,70.77 L114.58,71.72 L114.74,72.66 L114.89,73.61 L115.05,74.55 L115.22,75.50 L115.38,76.44 L115.56,77.39 L115.73,78.33 L115.91,79.27 L116.10,80.20 L116.30,81.14 L116.50,82.08 L116.71,83.01 L116.93,83.94 L117.17,84.86 L117.41,85.78 L117.66,86.70 L117.93,87.62 L118.21,88.53 L118.51,89.44 L118.82,90.34 L119.14,91.24 L119.48,92.13 L119.84,93.02 L120.22,93.90 L120.61,94.78 L121.02,95.65 L121.45,96.52 L121.89,97.37 L122.35,98.22 L122.82,99.06 L123.31,99.89 L123.82,100.71 L124.34,101.52 L124.88,102.32 L125.43,103.10 L125.99,103.88 L126.57,104.65 L127.17,105.40 L127.78,106.14 L128.40,106.86 L129.03,107.57 L129.68,108.27 L130.34,108.95 L131.02,109.62 L131.71,110.27 L132.40,110.91 L133.12,111.53 L133.84,112.14 L134.57,112.74 L135.32,113.32 L136.07,113.89 L136.83,114.45 L137.61,115.00 L138.39,115.53 L139.19,116.05 L139.99,116.56 L140.80,117.05 L141.62,117.54 L142.45,118.01 L143.28,118.47 L144.12,118.92 L144.97,119.36 L145.83,119.79 L146.69,120.21 L147.55,120.62 L148.43,121.01 L149.31,121.40 L150.19,121.78 L151.08,122.15 L151.97,122.51 L152.86,122.86 L153.76,123.20 L154.67,123.54 L155.57,123.86 L156.48,124.18 L157.40,124.49 L158.31,124.79 L159.23,125.08 L160.14,125.37 L161.06,125.65 L161.98,125.93 L162.91,126.20 L163.83,126.47 L164.76,126.73 L165.68,126.99 L166.61,127.25 L167.54,127.50 L168.47,127.75 L169.40,128.00 L170.32,128.25 L171.25,128.50 L172.18,128.74 L173.11,128.99 L174.04,129.24 L174.96,129.48 L175.89,129.73 L176.81,129.98 L177.74,130.24 L178.66,130.49 L179.58,130.75 L180.50,131.02 L181.41,131.28 L182.33,131.56 L183.24,131.83 L184.15,132.12 L185.06,132.40 L185.96,132.70 L186.86,133.00 L187.76,133.31 L188.66,133.63 L189.55,133.96 L190.44,134.29 L191.32,134.63 L192.20,134.99 L193.08,135.35 L193.95,135.72 L194.82,136.10 L195.68,136.49 L196.54,136.89 L197.40,137.29 L198.25,137.71 L199.10,138.13 L199.95,138.56 L200.79,139.00 L201.63,139.45 L202.46,139.91 L203.29,140.37 L204.12,140.84 L204.94,141.32 L205.77,141.80 L206.59,142.28 L207.40,142.77 L208.22,143.27 L209.04,143.76 L209.85,144.27 L210.67,144.77 L211.48,145.28 L212.29,145.79 L213.10,146.30 L213.91,146.81 L214.71,147.33 L215.52,147.85 L216.33,148.37 L217.14,148.89 L217.94,149.41 L218.75,149.93 L219.55,150.45 L220.36,150.98 L221.17,151.50 L221.97,152.02 L222.78,152.54 L223.59,153.06 L224.40,153.58 L225.21,154.10 L226.02,154.61 L226.83,155.13 L227.64,155.64 L228.46,156.15 L229.27,156.66 L230.09,157.16 L230.91,157.66 L231.73,158.15 L232.55,158.65 L233.38,159.14 L234.20,159.62 L235.03,160.10 L235.86,160.57 L236.70,161.04 L237.53,161.51 L238.37,161.97 L239.21,162.42 L240.06,162.87 L240.90,163.31 L241.75,163.75 L242.60,164.18 L243.46,164.61 L244.31,165.04 L245.17,165.45 L246.03,165.87 L246.90,166.27 L247.76,166.68 L248.63,167.08 L249.50,167.47 L250.37,167.86 L251.24,168.24 L252.12,168.62 L253.00,169.00 L253.87,169.37 L254.76,169.74 L255.64,170.10 L256.52,170.46 L257.41,170.81 L258.30,171.16 L259.19,171.51 L260.08,171.85 L260.98,172.18 L261.87,172.52 L262.77,172.84 L263.67,173.17 L264.57,173.49 L265.47,173.81 L266.37,174.12 L267.28,174.43 L268.19,174.73 L269.09,175.04 L270.00,175.33 L270.91,175.63 L271.82,175.92 L272.74,176.20 L273.65,176.49 L274.57,176.77 L275.48,177.04 L276.40,177.32 L277.32,177.59 L278.24,177.85 L279.16,178.12 L280.08,178.38 L281.00,178.64 L281.93,178.89 L282.85,179.14 L283.78,179.39 L284.70,179.63 L285.63,179.88 L286.56,180.12 L287.48,180.35 L288.41,180.59 L289.34,180.82 L290.27,181.04 L291.20,181.27 L292.13,181.49 L293.07,181.71 L294.00,181.93 L294.93,182.15 L295.86,182.36 L296.80,182.57 L297.73,182.78 L298.67,182.98 L299.60,183.19 L300.54,183.39 L301.47,183.59 L302.41,183.79 L303.35,183.98 L304.28,184.17 L305.22,184.36 L306.16,184.55 L307.10,184.74 L308.04,184.92 L308.98,185.10 L309.92,185.28 L310.86,185.46 L311.80,185.64 L312.74,185.81 L313.68,185.99 L314.62,186.16 L315.56,186.33 L316.51,186.49 L317.45,186.66 L318.39,186.82 L319.33,186.99 L320.28,187.15 L321.22,187.31 L322.16,187.46 L323.11,187.62 L324.05,187.78 L325.00,187.93 L325.94,188.08 L326.89,188.23 L327.83,188.38 L328.78,188.53 L329.73,188.68 L330.67,188.82 L331.62,188.97 L332.57,189.11 L333.51,189.25 L334.46,189.39 L335.41,189.53 L336.35,189.67 L337.30,189.81 L338.25,189.95 L339.20,190.09 L340.15,190.22 L341.09,190.36 L342.04,190.49 L342.99,190.62 L343.94,190.76 L344.89,190.89 L345.84,191.02 L346.79,191.15 L347.73,191.28 L348.68,191.41 L349.63,191.54 L350.58,191.66 L351.53,191.79 L352.48,191.92 L353.43,192.04 L354.38,192.17 L355.33,192.30 L356.28,192.42 L357.23,192.55 L358.18,192.67 L359.13,192.80 L360.08,192.92 L361.03,193.05 L361.98,193.17 L362.93,193.30 L363.88,193.42 L364.83,193.54 L365.78,193.67 L366.73,193.79 L367.68,193.92 L368.62,194.04 L369.57,194.17 L370.52,194.29 L371.47,194.42 L372.42,194.54 L373.37,194.67 L374.32,194.79 L375.27,194.92 L376.22,195.05 L377.17,195.17 L378.11,195.30 L379.06,195.43 L380.01,195.56 L380.96,195.69 L381.91,195.82 L382.85,195.95 L383.80,196.08 L384.75,196.21 L385.70,196.34 L386.64,196.48 L387.59,196.61 L388.54,196.75 L389.48,196.88 L390.43,197.02 L391.37,197.16 L392.32,197.30 L393.27,197.44 L394.21,197.58 L395.16,197.72 L396.10,197.86 L397.04,198.00 L397.99,198.15" stroke="#ff8000" stroke-width="1.6"/>
<path d="M105.27,17.98 L105.28,18.97 L105.31,19.95 L105.34,20.93 L105.39,21.91 L105.44,22.89 L105.51,23.86 L105.59,24.84 L105.67,25.81 L105.76,26.78 L105.87,27.75 L105.98,28.72 L106.10,29.68 L106.22,30.65 L106.36,31.61 L106.50,32.58 L106.64,33.54 L106.79,34.50 L106.95,35.46 L107.11,36.42 L107.28,37.38 L107.45,38.34 L107.63,39.29 L107.80,40.25 L107.99,41.20 L108.17,42.16 L108.36,43.11 L108.55,44.06 L108.74,45.02 L108.93,45.97 L109.13,46.92 L109.32,47.87 L109.51,48.82 L109.71,49.78 L109.90,50.73 L110.09,51.68 L110.27,52.63 L110.46,53.58 L110.64,54.54 L110.81,55.49 L110.98,56.45 L111.15,57.40 L111.31,58.36 L111.47,59.31 L111.63,60.27 L111.78,61.23 L111.93,62.19 L112.08,63.15 L112.23,64.11 L112.37,65.07 L112.51,66.03 L112.65,66.99 L112.79,67.95 L112.93,68.92 L113.06,69.88 L113.20,70.84 L113.34,71.81 L113.47,72.77 L113.61,73.74 L113.75,74.70 L113.89,75.67 L114.04,76.63 L114.19,77.59 L114.34,78.56 L114.50,79.52 L114.67,80.48 L114.84,81.43 L115.03,82.39 L115.22,83.34 L115.42,84.30 L115.62,85.25 L115.84,86.20 L116.08,87.14 L116.32,88.08 L116.57,89.02 L116.84,89.96 L117.13,90.89 L117.42,91.82 L117.74,92.75 L118.07,93.67 L118.41,94.59 L118.77,95.50 L119.15,96.40 L119.54,97.30 L119.95,98.19 L120.38,99.08 L120.82,99.95 L121.28,100.82 L121.75,101.68 L122.24,102.52 L122.75,103.36 L123.27,104.18 L123.81,104.99 L124.36,105.79 L124.93,106.57 L125.52,107.34 L126.12,108.09 L126.74,108.83 L127.37,109.55 L128.02,110.26 L128.69,110.95 L129.37,111.63 L130.06,112.29 L130.76,112.94 L131.48,113.57 L132.22,114.19 L132.96,114.80 L133.72,115.39 L134.49,115.97 L135.27,116.53 L136.06,117.09 L136.86,117.63 L137.67,118.15 L138.50,118.67 L139.33,119.17 L140.17,119.66 L141.02,120.13 L141.88,120.60 L142.74,121.05 L143.61,121.50 L144.49,121.93 L145.38,122.35 L146.27,122.76 L147.17,123.16 L148.08,123.55 L148.99,123.93 L149.90,124.30 L150.82,124.66 L151.74,125.01 L152.67,125.35 L153.60,125.68 L154.53,126.00 L155.47,126.31 L156.41,126.62 L157.35,126.91 L158.29,127.20 L159.23,127.48 L160.17,127.76 L161.12,128.03 L162.06,128.29 L163.01,128.55 L163.96,128.80 L164.91,129.05 L165.85,129.29 L166.80,129.53 L167.75,129.77 L168.70,130.01 L169.65,130.25 L170.60,130.48 L171.55,130.72 L172.50,130.95 L173.44,131.18 L174.39,131.42 L175.33,131.66 L176.28,131.89 L177.22,132.14 L178.16,132.38 L179.10,132.63 L180.04,132.88 L180.97,133.13 L181.90,133.40 L182.83,133.66 L183.76,133.94 L184.69,134.21 L185.61,134.50 L186.53,134.80 L187.45,135.10 L188.36,135.41 L189.27,135.73 L190.18,136.06 L191.08,136.40 L191.98,136.75 L192.88,137.11 L193.77,137.48 L194.65,137.86 L195.54,138.25 L196.41,138.65 L197.28,139.07 L198.15,139.49 L199.01,139.93 L199.86,140.38 L200.71,140.84 L201.55,141.31 L202.39,141.80 L203.22,142.29 L204.05,142.79 L204.87,143.30 L205.69,143.82 L206.50,144.35 L207.31,144.89 L208.11,145.43 L208.91,145.98 L209.71,146.53 L210.50,147.09 L211.29,147.66 L212.08,148.23 L212.86,148.81 L213.64,149.39 L214.42,149.97 L215.20,150.56 L215.98,151.15 L216.75,151.74 L217.53,152.34 L218.30,152.94 L219.07,153.53 L219.84,154.13 L220.61,154.73 L221.39,155.33 L222.16,155.93 L222.93,156.53 L223.70,157.13 L224.48,157.72 L225.25,158.32 L226.03,158.91 L226.81,159.50 L227.59,160.08 L228.37,160.67 L229.16,161.25 L229.95,161.82 L230.74,162.39 L231.53,162.95 L232.33,163.51 L233.13,164.06 L233.94,164.61 L234.75,165.15 L235.57,165.68 L236.38,166.21 L237.20,166.73 L238.03,167.25 L238.86,167.76 L239.69,168.26 L240.52,168.76 L241.36,169.26 L242.20,169.75 L243.05,170.24 L243.89,170.72 L244.74,171.20 L245.59,171.68 L246.44,172.15 L247.29,172.62 L248.15,173.09 L249.00,173.56 L249.86,174.03 L250.72,174.49 L251.58,174.95 L252.44,175.41 L253.30,175.87 L254.16,176.33 L255.02,176.79 L255.88,177.25 L256.74,177.71 L257.61,178.17 L258.47,178.63 L259.34,179.08 L260.20,179.53 L261.07,179.98 L261.94,180.42 L262.81,180.86 L263.68,181.29 L264.56,181.72 L265.44,182.14 L266.32,182.55 L267.20,182.96 L268.09,183.35 L268.98,183.74 L269.87,184.13 L270.77,184.50 L271.67,184.86 L272.57,185.21 L273.48,185.56 L274.39,185.89 L275.30,186.22 L276.22,186.54 L277.14,186.85 L278.06,187.16 L278.98,187.46 L279.91,187.75 L280.84,188.04 L281.77,188.32 L282.70,188.60 L283.63,188.88 L284.57,189.15 L285.50,189.41 L286.44,189.68 L287.37,189.93 L288.31,190.19 L289.25,190.44 L290.19,190.69 L291.13,190.94 L292.07,191.18 L293.02,191.42 L293.96,191.65 L294.91,191.88 L295.85,192.11 L296.80,192.34 L297.75,192.56 L298.69,192.78 L299.64,192.99 L300.59,193.21 L301.55,193.42 L302.50,193.62 L303.45,193.83 L304.40,194.03 L305.36,194.23 L306.31,194.43 L307.27,194.62 L308.22,194.81 L309.18,195.00 L310.14,195.18 L311.10,195.37 L312.06,195.55 L313.02,195.73 L313.98,195.90 L314.94,196.08 L315.90,196.25 L316.86,196.42 L317.82,196.59 L318.78,196.75 L319.75,196.92 L320.71,197.08 L321.68,197.24 L322.64,197.40 L323.61,197.55 L324.57,197.71 L325.54,197.86 L326.50,198.01 L327.47,198.16 L328.44,198.30 L329.41,198.45 L330.37,198.59 L331.34,198.74 L332.31,198.88 L333.28,199.02 L334.25,199.16 L335.22,199.29 L336.19,199.43 L337.16,199.56 L338.13,199.70 L339.10,199.83 L340.07,199.96 L341.04,200.09 L342.01,200.22 L342.98,200.35 L343.95,200.48 L344.92,200.60 L345.89,200.73 L346.86,200.86 L347.83,200.98 L348.80,201.10 L349.78,201.23 L350.75,201.35 L351.72,201.47 L352.69,201.59 L353.66,201.71 L354.63,201.84 L355.60,201.96 L356.57,202.08 L357.54,202.20 L358.51,202.32 L359.48,202.44 L360.45,202.56 L361.42,202.68 L362.39,202.80 L363.36,202.92 L364.33,203.04 L365.30,203.16 L366.27,203.28 L367.23,203.40 L368.20,203.52 L369.17,203.64 L370.14,203.76 L371.10,203.88 L372.07,204.00 L373.04,204.13 L374.00,204.25 L374.97,204.37 L375.93,204.50 L376.90,204.62 L377.86,204.75 L378.83,204.88 L379.79,205.00 L380.75,205.13 L381.71,205.26 L382.67,205.39 L383.63,205.52 L384.59,205.66 L385.55,205.79 L386.51,205.92 L387.47,206.06 L388.43,206.20 L389.39,206.34 L390.34,206.48 L391.30,206.62 L392.25,206.76 L393.21,206.90 L394.16,207.05 L395.11,207.20 L396.07,207.35 L397.02,207.50 L397.97,207.65" stroke="#0000ff" stroke-width="1.6"/>
<path d="M106.51,18.02 L106.53,18.11 L106.54,18.21 L106.56,18.30 L106.58,18.40 L106.59,18.49 L106.61,18.59 L106.62,18.68 L106.64,18.78 L106.65,18.88 L106.67,18.97 L106.69,19.07 L106.70,19.16 L106.72,19.26 L106.73,19.35 L106.75,19.45 L106.76,19.55 L106.77,19.64 L106.79,19.74 L106.80,19.83 L106.82,19.93 L106.83,20.03 L106.85,20.12 L106.86,20.22 L106.87,20.31 L106.89,20.41 L106.90,20.51 L106.92,20.60 L106.93,20.70 L106.94,20.79 L106.96,20.89 L106.97,20.99 L106.98,21.08 L107.00,21.18 L107.01,21.27 L107.02,21.37 L107.04,21.47 L107.05,21.56 L107.06,21.66 L107.08,21.76 L107.09,21.85 L107.10,21.95 L107.12,22.04 L107.13,22.14 L107.14,22.24 L107.15,22.33 L107.17,22.43 L107.18,22.53 L107.19,22.62 L107.20,22.72 L107.22,22.82 L107.23,22.91 L107.24,23.01 L107.25,23.11 L107.26,23.20 L107.28,23.30 L107.29,23.40 L107.30,23.49 L107.31,23.59 L107.32,23.68 L107.33,23.78 L107.35,23.88 L107.36,23.97 L107.37,24.07 L107.38,24.17 L107.39,24.26 L107.40,24.36 L107.42,24.46 L107.43,24.56 L107.44,24.65 L107.45,24.75 L107.46,24.85 L107.47,24.94 L107.48,25.04 L107.49,25.14 L107.50,25.23 L107.52,25.33 L107.53,25.43 L107.54,25.52 L107.55,25.62 L107.56,25.72 L107.57,25.81 L107.58,25.91 L107.59,26.01 L107.60,26.10 L107.61,26.20 L107.62,26.30 L107.63,26.40 L107.64,26.49 L107.65,26.59 L107.67,26.69 L107.68,26.78 L107.69,26.88 L107.70,26.98 L107.71,27.07 L107.72,27.17 L107.73,27.27 L107.74,27.37 L107.75,27.46 L107.76,27.56 L107.77,27.66 L107.78,27.75 L107.79,27.85 L107.80,27.95 L107.81,28.04 L107.82,28.14 L107.83,28.24 L107.84,28.34 L107.85,28.43 L107.86,28.53 L107.87,28.63 L107.88,28.72 L107.89,28.82 L107.90,28.92 L107.91,29.02 L107.92,29.11 L107.93,29.21 L107.94,29.31 L107.95,29.40 L107.96,29.50 L107.97,29.60 L107.98,29.69 L107.99,29.79 L108.00,29.89 L108.01,29.99 L108.02,30.08 L108.03,30.18 L108.04,30.28 L108.05,30.37 L108.06,30.47 L108.07,30.57 L108.08,30.67 L108.09,30.76 L108.10,30.86 L108.11,30.96 L108.12,31.05 L108.13,31.15 L108.14,31.25 L108.15,31.35 L108.16,31.44 L108.17,31.54 L108.18,31.64 L108.19,31.73 L108.21,31.83 L108.22,31.93 L108.23,32.03 L108.24,32.12 L108.25,32.22 L108.26,32.32 L108.27,32.41 L108.28,32.51 L108.29,32.61 L108.30,32.70 L108.31,32.80 L108.32,32.90 L108.33,33.00 L108.34,33.09 L108.35,33.19 L108.36,33.29 L108.37,33.38 L108.38,33.48 L108.39,33.58 L108.40,33.67 L108.42,33.77 L108.43,33.87 L108.44,33.97 L108.45,34.06 L108.46,34.16 L108.47,34.26 L108.48,34.35 L108.49,34.45 L108.50,34.55 L108.51,34.64 L108.52,34.74 L108.54,34.84 L108.55,34.94 L108.56,35.03 L108.57,35.13 L108.58,35.23 L108.59,35.32 L108.60,35.42 L108.62,35.52 L108.63,35.61 L108.64,35.71 L108.65,35.81 L108.66,35.90 L108.67,36.00 L108.69,36.10 L108.70,36.19 L108.71,36.29 L108.72,36.39 L108.73,36.48 L108.75,36.58 L108.76,36.68 L108.77,36.77 L108.78,36.87 L108.79,36.97 L108.81,37.06 L108.82,37.16 L108.83,37.26 L108.84,37.35 L108.86,37.45 L108.87,37.55 L108.88,37.64 L108.89,37.74 L108.91,37.84 L108.92,37.93 L108.93,38.03 L108.95,38.13 L108.96,38.22 L108.97,38.32 L108.99,38.41 L109.00,38.51 L109.01,38.61 L109.03,38.70 L109.04,38.80 L109.05,38.90 L109.07,38.99 L109.08,39.09 L109.10,39.19 L109.11,39.28 L109.12,39.38 L109.14,39.47 L109.15,39.57 L109.17,39.67 L109.18,39.76 L109.20,39.86 L109.21,39.95 L109.23,40.05 L109.24,40.15 L109.25,40.24 L109.27,40.34 L109.28,40.43 L109.30,40.53 L109.32,40.63 L109.33,40.72 L109.35,40.82 L109.36,40.91 L109.38,41.01 L109.39,41.11 L109.41,41.20 L109.42,41.30 L109.44,41.39 L109.46,41.49 L109.47,41.58 L109.49,41.68 L109.51,41.78 L109.52,41.87 L109.54,41.97 L109.56,42.06 L109.57,42.16 L109.59,42.25 L109.61,42.35 L109.62,42.44 L109.64,42.54 L109.66,42.64 L109.68,42.73 L109.69,42.83 L109.71,42.92 L109.73,43.02 L109.75,43.11 L109.76,43.21 L109.78,43.30 L109.80,43.40 L109.82,43.49 L109.84,43.59 L109.86,43.68 L109.88,43.78 L109.89,43.87 L109.91,43.97 L109.93,44.06 L109.95,44.16 L109.97,44.25 L109.99,44.35 L110.01,44.44 L110.03,44.54 L110.05,44.63 L110.07,44.73 L110.09,44.82 L110.11,44.92 L110.13,45.01 L110.15,45.11 L110.17,45.20 L110.19,45.30 L110.21,45.39 L110.23,45.49 L110.25,45.58 L110.28,45.67 L110.30,45.77 L110.32,45.86 L110.34,45.96 L110.36,46.05 L110.38,46.15 L110.41,46.24 L110.43,46.33 L110.45,46.43 L110.47,46.52 L110.50,46.62 L110.52,46.71 L110.54,46.81 L110.57,46.90 L110.59,46.99 L110.61,47.09 L110.64,47.18 L110.66,47.27 L110.68,47.37 L110.71,47.46 L110.73,47.56 L110.76,47.65 L110.78,47.74 L110.81,47.84 L110.83,47.93 L110.86,48.02 L110.88,48.12 L110.91,48.21 L110.93,48.31 L110.96,48.40 L110.98,48.49 L111.01,48.59 L111.03,48.68 L111.06,48.77 L111.09,48.87 L111.11,48.96 L111.14,49.05 L111.17,49.14 L111.19,49.24 L111.22,49.33 L111.25,49.42 L111.28,49.52 L111.30,49.61 L111.33,49.70 L111.36,49.80 L111.39,49.89 L111.42,49.98 L111.45,50.07 L111.47,50.17 L111.50,50.26 L111.53,50.35 L111.56,50.44 L111.59,50.54 L111.62,50.63 L111.65,50.72 L111.68,50.81 L111.71,50.91 L111.74,51.00 L111.77,51.09 L111.80,51.18 L111.83,51.27 L111.87,51.37 L111.90,51.46 L111.93,51.55 L111.96,51.64 L111.99,51.73 L112.02,51.83 L112.06,51.92 L112.09,52.01 L112.12,52.10 L112.15,52.19 L112.19,52.28 L112.22,52.38 L112.25,52.47 L112.29,52.56 L112.32,52.65 L112.36,52.74 L112.39,52.83 L112.42,52.92 L112.46,53.02 L112.49,53.11 L112.53,53.20 L112.56,53.29 L112.60,53.38 L112.64,53.47 L112.67,53.56 L112.71,53.65 L112.74,53.74 L112.78,53.83 L112.82,53.92 L112.85,54.02 L112.89,54.11 L112.93,54.20 L112.97,54.29 L113.00,54.38 L113.04,54.47 L113.08,54.56 L113.12,54.65 L113.16,54.74 L113.20,54.83 L113.23,54.92 L113.27,55.01 L113.31,55.10 L113.35,55.19 L113.39,55.28 L113.43,55.37 L113.47,55.46 L113.51,55.55 L113.56,55.64 L113.60,55.73 L113.64,55.82 L113.68,55.91 L113.72,56.00" stroke="#ff0000" stroke-width="1.6"/>
<path d="M107.03,17.96 L107.07,18.92 L107.13,19.88 L107.19,20.84 L107.26,21.79 L107.34,22.74 L107.43,23.68 L107.53,24.62 L107.63,25.56 L107.74,26.50 L107.85,27.43 L107.98,28.36 L108.11,29.29 L108.24,30.21 L108.38,31.14 L108.53,32.06 L108.68,32.98 L108.84,33.90 L109.00,34.81 L109.16,35.73 L109.33,36.64 L109.50,37.55 L109.67,38.46 L109.85,39.37 L110.03,40.28 L110.21,41.19 L110.39,42.10 L110.58,43.01 L110.76,43.91 L110.95,44.82 L111.14,45.73 L111.32,46.63 L111.51,47.54 L111.70,48.45 L111.89,49.36 L112.07,50.26 L112.26,51.17 L112.45,52.08 L112.63,52.99 L112.81,53.90 L113.00,54.82 L113.18,55.73 L113.36,56.65 L113.53,57.56 L113.71,58.48 L113.89,59.40 L114.06,60.32 L114.24,61.24 L114.41,62.16 L114.59,63.09 L114.77,64.01 L114.94,64.94 L115.12,65.87 L115.30,66.79 L115.48,67.72 L115.66,68.65 L115.85,69.58 L116.04,70.52 L116.22,71.45 L116.42,72.38 L116.61,73.31 L116.81,74.25 L117.02,75.18 L117.23,76.11 L117.45,77.04 L117.67,77.96 L117.90,78.89 L118.13,79.81 L118.38,80.72 L118.63,81.64 L118.89,82.55 L119.16,83.45 L119.45,84.36 L119.74,85.25 L120.04,86.14 L120.35,87.03 L120.68,87.90 L121.02,88.78 L121.37,89.64 L121.73,90.50 L122.11,91.34 L122.51,92.19 L122.92,93.02 L123.34,93.84 L123.78,94.65 L124.24,95.46 L124.72,96.25 L125.21,97.03 L125.72,97.80 L126.24,98.56 L126.79,99.31 L127.34,100.05 L127.92,100.78 L128.51,101.50 L129.11,102.20 L129.73,102.90 L130.36,103.58 L131.00,104.25 L131.66,104.91 L132.33,105.56 L133.01,106.19 L133.70,106.81 L134.41,107.42 L135.13,108.02 L135.85,108.61 L136.59,109.18 L137.33,109.74 L138.09,110.29 L138.85,110.83 L139.62,111.35 L140.40,111.86 L141.19,112.35 L141.99,112.84 L142.79,113.31 L143.60,113.77 L144.41,114.22 L145.24,114.66 L146.07,115.09 L146.90,115.51 L147.74,115.92 L148.59,116.32 L149.44,116.71 L150.30,117.09 L151.16,117.47 L152.03,117.84 L152.90,118.20 L153.78,118.55 L154.65,118.89 L155.54,119.23 L156.42,119.57 L157.31,119.90 L158.21,120.22 L159.10,120.54 L160.00,120.85 L160.90,121.16 L161.80,121.46 L162.70,121.77 L163.61,122.06 L164.51,122.36 L165.42,122.65 L166.33,122.95 L167.24,123.24 L168.15,123.53 L169.06,123.81 L169.96,124.10 L170.87,124.39 L171.78,124.68 L172.69,124.96 L173.59,125.25 L174.50,125.54 L175.40,125.84 L176.30,126.13 L177.20,126.43 L178.09,126.73 L178.99,127.03 L179.88,127.33 L180.76,127.64 L181.65,127.96 L182.53,128.27 L183.41,128.60 L184.28,128.92 L185.15,129.25 L186.02,129.59 L186.89,129.93 L187.75,130.27 L188.62,130.62 L189.47,130.97 L190.33,131.32 L191.19,131.68 L192.04,132.05 L192.89,132.42 L193.73,132.79 L194.58,133.17 L195.42,133.55 L196.26,133.94 L197.10,134.34 L197.94,134.73 L198.77,135.14 L199.60,135.54 L200.44,135.96 L201.27,136.37 L202.09,136.80 L202.92,137.22 L203.75,137.65 L204.57,138.08 L205.40,138.52 L206.22,138.95 L207.05,139.39 L207.87,139.83 L208.69,140.28 L209.51,140.72 L210.34,141.17 L211.16,141.61 L211.99,142.06 L212.81,142.50 L213.64,142.94 L214.47,143.39 L215.29,143.83 L216.12,144.27 L216.95,144.71 L217.78,145.15 L218.62,145.59 L219.45,146.02 L220.28,146.46 L221.12,146.89 L221.95,147.32 L222.79,147.75 L223.63,148.18 L224.47,148.61 L225.31,149.04 L226.15,149.46 L226.99,149.88 L227.83,150.30 L228.68,150.72 L229.52,151.14 L230.37,151.55 L231.21,151.97 L232.06,152.38 L232.91,152.78 L233.76,153.19 L234.61,153.59 L235.47,153.99 L236.32,154.39 L237.17,154.79 L238.03,155.18 L238.88,155.57 L239.74,155.96 L240.60,156.34 L241.46,156.72 L242.32,157.10 L243.18,157.48 L244.05,157.85 L244.91,158.22 L245.77,158.59 L246.64,158.95 L247.51,159.31 L248.38,159.67 L249.25,160.02 L250.12,160.37 L250.99,160.72 L251.86,161.06 L252.74,161.40 L253.61,161.73 L254.49,162.07 L255.36,162.40 L256.24,162.72 L257.12,163.04 L258.00,163.36 L258.88,163.68 L259.77,163.99 L260.65,164.30 L261.53,164.61 L262.42,164.91 L263.30,165.21 L264.19,165.51 L265.08,165.80 L265.97,166.09 L266.86,166.38 L267.75,166.66 L268.64,166.94 L269.54,167.22 L270.43,167.50 L271.32,167.77 L272.22,168.04 L273.12,168.30 L274.01,168.57 L274.91,168.83 L275.81,169.09 L276.71,169.34 L277.61,169.60 L278.51,169.85 L279.41,170.09 L280.32,170.34 L281.22,170.58 L282.13,170.82 L283.03,171.06 L283.94,171.29 L284.84,171.52 L285.75,171.75 L286.66,171.98 L287.57,172.20 L288.48,172.42 L289.39,172.64 L290.30,172.86 L291.21,173.07 L292.12,173.29 L293.04,173.50 L293.95,173.70 L294.86,173.91 L295.78,174.11 L296.69,174.31 L297.61,174.51 L298.53,174.71 L299.44,174.90 L300.36,175.10 L301.28,175.29 L302.20,175.47 L303.12,175.66 L304.04,175.85 L304.96,176.03 L305.88,176.21 L306.80,176.39 L307.72,176.56 L308.65,176.74 L309.57,176.91 L310.49,177.08 L311.42,177.25 L312.34,177.42 L313.27,177.58 L314.19,177.75 L315.12,177.91 L316.04,178.07 L316.97,178.23 L317.90,178.39 L318.82,178.54 L319.75,178.70 L320.68,178.85 L321.61,179.00 L322.53,179.15 L323.46,179.30 L324.39,179.44 L325.32,179.59 L326.25,179.73 L327.18,179.88 L328.11,180.02 L329.04,180.16 L329.97,180.30 L330.90,180.43 L331.84,180.57 L332.77,180.70 L333.70,180.84 L334.63,180.97 L335.56,181.10 L336.50,181.23 L337.43,181.36 L338.36,181.49 L339.29,181.62 L340.23,181.74 L341.16,181.87 L342.09,181.99 L343.03,182.11 L343.96,182.24 L344.89,182.36 L345.83,182.48 L346.76,182.60 L347.70,182.72 L348.63,182.84 L349.56,182.95 L350.50,183.07 L351.43,183.19 L352.36,183.30 L353.30,183.42 L354.23,183.53 L355.17,183.64 L356.10,183.76 L357.03,183.87 L357.97,183.98 L358.90,184.09 L359.84,184.20 L360.77,184.31 L361.70,184.42 L362.64,184.53 L363.57,184.64 L364.50,184.75 L365.44,184.86 L366.37,184.97 L367.30,185.07 L368.24,185.18 L369.17,185.29 L370.10,185.40 L371.03,185.50 L371.97,185.61 L372.90,185.72 L373.83,185.83 L374.76,185.93 L375.69,186.04 L376.62,186.15 L377.55,186.25 L378.48,186.36 L379.41,186.47 L380.34,186.57 L381.27,186.68 L382.20,186.79 L383.13,186.89 L384.06,187.00 L384.99,187.11 L385.92,187.22 L386.84,187.33 L387.77,187.43 L388.70,187.54 L389.63,187.65 L390.55,187.76 L391.48,187.87 L392.40,187.98 L393.33,188.09 L394.25,188.20 L395.18,188.32 L396.10,188.43 L397.02,188.54 L397.95,188.65" stroke="#ff0000" stroke-width="1.6"/>
</g>
<circle cx="249.30" cy="160.20" r="2.6" fill="#000"/>
<circle cx="293.75" cy="173.25" r="2.6" fill="#000"/>
<circle cx="358.00" cy="183.75" r="2.6" fill="#000"/>
<circle cx="246.30" cy="165.50" r="2.6" fill="#000"/>
<circle cx="292.00" cy="181.75" r="2.6" fill="#000"/>
<circle cx="350.00" cy="191.75" r="2.6" fill="#000"/>
<circle cx="244.10" cy="171.00" r="2.6" fill="#000"/>
<circle cx="284.25" cy="189.25" r="2.6" fill="#000"/>
<circle cx="335.60" cy="199.50" r="2.6" fill="#000"/>
<circle cx="239.50" cy="173.00" r="2.6" fill="#000"/>
<circle cx="281.25" cy="197.00" r="2.6" fill="#000"/>
<circle cx="327.00" cy="207.50" r="2.6" fill="#000"/>
<circle cx="239.00" cy="171.70" r="2.6" fill="#000"/>
<circle cx="274.50" cy="205.00" r="2.6" fill="#000"/>
<circle cx="330.10" cy="219.10" r="2.6" fill="#000"/>
<circle cx="236.60" cy="171.00" r="2.6" fill="#000"/>
<circle cx="274.00" cy="214.60" r="2.6" fill="#000"/>
<circle cx="320.60" cy="226.90" r="2.6" fill="#000"/>
<circle cx="237.50" cy="171.50" r="2.6" fill="#000"/>
<circle cx="265.75" cy="222.50" r="2.6" fill="#000"/>
<circle cx="303.25" cy="234.25" r="2.6" fill="#000"/>
<g style="opacity:0.999">
<text x="0" y="3.47" font-size="9.7" fill="#222" stroke="#222" stroke-width="0.08" text-anchor="middle" transform="translate(354.30 73.16) rotate(6.5) scale(0.81 1)">-9.42</text>
<text x="0" y="3.47" font-size="9.7" fill="#222" stroke="#222" stroke-width="0.08" text-anchor="middle" transform="translate(349.20 144.21) rotate(6.9) scale(0.81 1)">-6.73</text>
<text x="0" y="3.47" font-size="9.7" fill="#222" stroke="#222" stroke-width="0.08" text-anchor="middle" transform="translate(354.20 217.44) rotate(5.1) scale(0.81 1)">-4.04</text>
<text x="0" y="3.47" font-size="9.7" fill="#222" stroke="#222" stroke-width="0.08" text-anchor="middle" transform="translate(136.80 69.52) rotate(41.4) scale(0.82 1)">-6.73</text>
<text x="0" y="3.47" font-size="9.7" fill="#222" stroke="#222" stroke-width="0.08" text-anchor="middle" transform="translate(138.30 143.33) rotate(38.3) scale(0.82 1)">-4.04</text>
<text x="0" y="3.37" font-size="9.4" fill="#9a9a9a" stroke="#9a9a9a" stroke-width="0" text-anchor="middle" transform="translate(208.50 226.80) rotate(21.0) scale(0.88 1)">-4.04</text>
<text x="0" y="3.37" font-size="9.4" fill="#a0a0a0" stroke="#a0a0a0" stroke-width="0" text-anchor="middle" transform="translate(78.61 82.01) rotate(69.8) scale(0.84 1)">-4.04</text>
<text x="0" y="3.37" font-size="9.4" fill="#a0a0a0" stroke="#a0a0a0" stroke-width="0" text-anchor="middle" transform="translate(76.90 115.20) rotate(71.4) scale(0.86 1)">-6.73</text>
<text x="0" y="3.37" font-size="9.4" fill="#a0a0a0" stroke="#a0a0a0" stroke-width="0" text-anchor="middle" transform="translate(79.97 161.29) rotate(71.3) scale(0.86 1)">-9.42</text>
<text x="0" y="3.37" font-size="9.4" fill="#a0a0a0" stroke="#a0a0a0" stroke-width="0" text-anchor="middle" transform="translate(78.54 193.00) rotate(68.9) scale(0.82 1)">-12.12</text>
<text x="0" y="3.37" font-size="9.4" fill="#a0a0a0" stroke="#a0a0a0" stroke-width="0" text-anchor="middle" transform="translate(76.99 225.19) rotate(70.4) scale(0.82 1)">-14.81</text>
</g>
<g stroke="#1e1e1e" fill="none" stroke-linecap="square">
<path d="M72.75,23.00 H393.55" stroke-width="0.9"/>
<path d="M72.75,250.65 H393.55" stroke-width="1.1"/>
<path d="M72.55,23.00 V250.65" stroke-width="1.05"/>
<path d="M393.55,23.00 V250.65" stroke-width="1.15"/>
</g>
<g style="opacity:0.999" stroke="#000" stroke-width="0.22">
<text x="107.69" y="267.70" font-size="14" fill="#000" text-anchor="middle">500</text>
<text x="196.81" y="267.70" font-size="14" fill="#000" text-anchor="middle">1000</text>
<text x="285.92" y="267.70" font-size="14" fill="#000" text-anchor="middle">1500</text>
<text x="375.03" y="267.70" font-size="14" fill="#000" text-anchor="middle">2000</text>
<text x="69.60" y="54.68" font-size="14" fill="#000" text-anchor="end">-4</text>
<text x="69.60" y="108.24" font-size="14" fill="#000" text-anchor="end">-2</text>
<text x="69.60" y="161.80" font-size="14" fill="#000" text-anchor="end">0</text>
<text x="69.60" y="215.36" font-size="14" fill="#000" text-anchor="end">2</text>
<text x="233.00" y="282.70" font-size="14" fill="#000" text-anchor="middle">T (K)</text>
<text x="46.30" y="136.20" font-size="14" fill="#000" text-anchor="middle" transform="rotate(-90 46.30 136.20)">P (bar)</text>
<text x="99.50" y="223.50" font-size="13.8" fill="#000">Nitrogen</text>
</g>
</svg>
</body></html>
